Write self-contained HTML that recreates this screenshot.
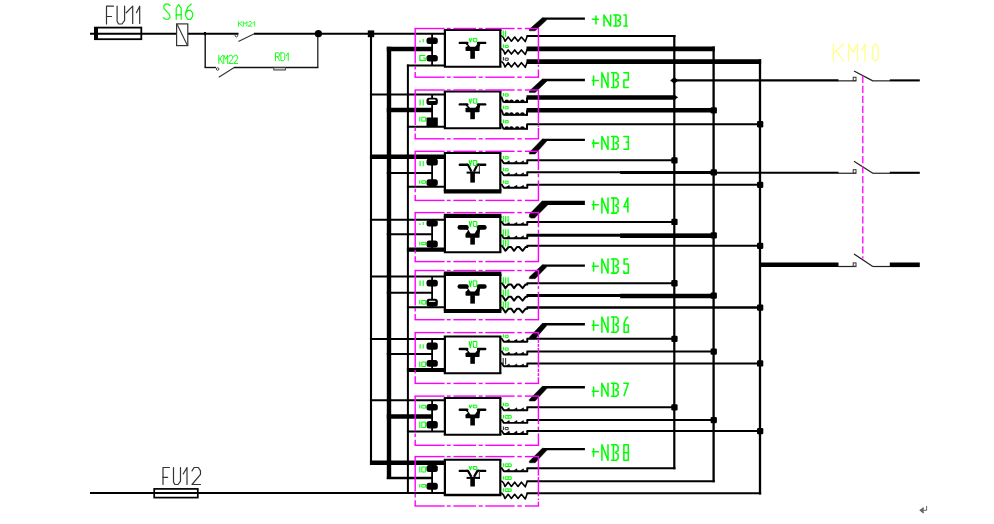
<!DOCTYPE html>
<html><head><meta charset="utf-8"><title>diagram</title>
<style>html,body{margin:0;padding:0;background:#fff;font-family:"Liberation Sans",sans-serif;}svg{display:block}</style>
</head><body>
<svg width="994" height="524" viewBox="0 0 994 524">
<rect width="994" height="524" fill="#fff"/>
<line x1="90.00" y1="33.70" x2="238.50" y2="33.70" stroke="#000" stroke-width="2" stroke-linecap="butt" />
<line x1="254.00" y1="33.70" x2="444.00" y2="33.70" stroke="#000" stroke-width="2" stroke-linecap="butt" />
<rect x="95.00" y="27.60" width="46.30" height="11.60" fill="#fff" stroke="#000" stroke-width="1.8" rx="0"/>
<rect x="94.00" y="27.00" width="4.00" height="13.00" fill="#000" stroke="none" stroke-width="0" rx="0"/>
<line x1="95.00" y1="33.70" x2="141.00" y2="33.70" stroke="#000" stroke-width="2" stroke-linecap="butt" />
<path d="M106.50,24.00 L106.50,6.20 L113.50,6.20" stroke="#333" stroke-width="1.2" fill="none" stroke-linecap="round" stroke-linejoin="round" />
<path d="M106.50,16.52 L111.54,16.52" stroke="#333" stroke-width="1.2" fill="none" stroke-linecap="round" stroke-linejoin="round" />
<path d="M117.10,6.20 L117.10,21.33 L118.60,24.00 L121.97,24.00 L124.60,20.44 L124.60,6.20" stroke="#333" stroke-width="1.2" fill="none" stroke-linecap="round" stroke-linejoin="round" />
<path d="M126.20,12.74 L132.70,6.20 L132.70,23.40" stroke="#333" stroke-width="1.2" fill="none" stroke-linecap="round" stroke-linejoin="round" />
<path d="M136.40,12.74 L139.70,6.20 L139.70,23.40" stroke="#333" stroke-width="1.2" fill="none" stroke-linecap="round" stroke-linejoin="round" />
<path d="M170.00,5.70 L168.35,4.20 L165.38,4.20 L163.73,6.00 L164.06,8.70 L169.67,14.70 L170.00,17.10 L168.35,19.20 L165.38,19.20 L163.40,17.70" stroke="#00ff00" stroke-width="1.15" fill="none" stroke-linecap="round" stroke-linejoin="round" />
<path d="M176.20,19.30 L176.20,8.27 L178.70,4.60 L181.20,8.27 L181.20,19.30" stroke="#00ff00" stroke-width="1.15" fill="none" stroke-linecap="round" stroke-linejoin="round" />
<path d="M176.20,14.89 L181.20,14.89" stroke="#00ff00" stroke-width="1.15" fill="none" stroke-linecap="round" stroke-linejoin="round" />
<path d="M191.30,4.00 L187.80,7.06 L185.70,12.42 L185.70,16.24 L187.80,19.30 L190.60,19.30 L192.70,16.24 L192.70,13.18 L190.60,10.43 L187.80,10.43 L185.70,13.18" stroke="#00ff00" stroke-width="1.15" fill="none" stroke-linecap="round" stroke-linejoin="round" />
<rect x="176.60" y="23.90" width="11.20" height="21.70" fill="#fff" stroke="#333" stroke-width="1.2" rx="0"/>
<line x1="177.20" y1="24.50" x2="187.20" y2="45.00" stroke="#333" stroke-width="1.1" stroke-linecap="butt" />
<line x1="205.20" y1="33.00" x2="205.20" y2="67.50" stroke="#111" stroke-width="1.4" stroke-linecap="butt" />
<line x1="204.50" y1="67.50" x2="216.00" y2="67.50" stroke="#111" stroke-width="1.4" stroke-linecap="butt" />
<circle cx="217.6" cy="69" r="1.3" fill="none" stroke="#333" stroke-width="0.9"/>
<line x1="218.80" y1="77.30" x2="234.20" y2="67.50" stroke="#333" stroke-width="1.1" stroke-linecap="butt" />
<line x1="234.00" y1="67.50" x2="318.40" y2="67.50" stroke="#111" stroke-width="1.4" stroke-linecap="butt" />
<line x1="317.80" y1="67.50" x2="317.80" y2="33.50" stroke="#222" stroke-width="1.3" stroke-linecap="butt" />
<rect x="273.80" y="67.50" width="11.60" height="2.50" fill="#ccc" stroke="#333" stroke-width="0.9" rx="0"/>
<circle cx="236.4" cy="35.6" r="1.3" fill="none" stroke="#333" stroke-width="0.9"/>
<line x1="238.40" y1="41.60" x2="254.30" y2="33.70" stroke="#333" stroke-width="1.1" stroke-linecap="butt" />
<rect x="204.00" y="32.00" width="2.00" height="3.20" fill="#000" stroke="none" stroke-width="0" rx="0"/>
<path d="M238.50,21.60 L238.50,26.20" stroke="#00ff00" stroke-width="0.8" fill="none" stroke-linecap="round" stroke-linejoin="round" />
<path d="M242.10,21.60 L238.50,24.13" stroke="#00ff00" stroke-width="0.8" fill="none" stroke-linecap="round" stroke-linejoin="round" />
<path d="M239.58,23.44 L242.10,26.20" stroke="#00ff00" stroke-width="0.8" fill="none" stroke-linecap="round" stroke-linejoin="round" />
<path d="M243.30,26.20 L243.30,21.60 L245.10,23.90 L246.90,21.60 L246.90,26.20" stroke="#00ff00" stroke-width="0.8" fill="none" stroke-linecap="round" stroke-linejoin="round" />
<path d="M248.10,22.52 L249.00,21.60 L250.80,21.60 L251.70,22.52 L251.70,23.44 L248.10,26.20 L251.70,26.20" stroke="#00ff00" stroke-width="0.8" fill="none" stroke-linecap="round" stroke-linejoin="round" />
<path d="M252.90,23.35 L254.70,21.60 L254.70,26.20" stroke="#00ff00" stroke-width="0.8" fill="none" stroke-linecap="round" stroke-linejoin="round" />
<path d="M218.80,55.20 L218.80,63.50" stroke="#00ff00" stroke-width="0.9" fill="none" stroke-linecap="round" stroke-linejoin="round" />
<path d="M222.70,55.20 L218.80,59.77" stroke="#00ff00" stroke-width="0.9" fill="none" stroke-linecap="round" stroke-linejoin="round" />
<path d="M219.97,58.52 L222.70,63.50" stroke="#00ff00" stroke-width="0.9" fill="none" stroke-linecap="round" stroke-linejoin="round" />
<path d="M223.80,63.50 L223.80,55.20 L225.75,59.35 L227.70,55.20 L227.70,63.50" stroke="#00ff00" stroke-width="0.9" fill="none" stroke-linecap="round" stroke-linejoin="round" />
<path d="M228.80,56.86 L229.78,55.20 L231.73,55.20 L232.70,56.86 L232.70,58.52 L228.80,63.50 L232.70,63.50" stroke="#00ff00" stroke-width="0.9" fill="none" stroke-linecap="round" stroke-linejoin="round" />
<path d="M233.80,56.86 L234.78,55.20 L236.73,55.20 L237.70,56.86 L237.70,58.52 L233.80,63.50 L237.70,63.50" stroke="#00ff00" stroke-width="0.9" fill="none" stroke-linecap="round" stroke-linejoin="round" />
<path d="M275.50,60.60 L275.50,52.80 L278.62,52.80 L279.40,53.97 L279.40,55.92 L278.62,56.70 L275.50,56.70" stroke="#00ff00" stroke-width="0.9" fill="none" stroke-linecap="round" stroke-linejoin="round" />
<path d="M277.45,56.70 L279.40,60.60" stroke="#00ff00" stroke-width="0.9" fill="none" stroke-linecap="round" stroke-linejoin="round" />
<path d="M280.90,52.80 L280.90,60.60 L283.63,60.60 L284.80,59.04 L284.80,54.36 L283.63,52.80 L280.90,52.80" stroke="#00ff00" stroke-width="0.9" fill="none" stroke-linecap="round" stroke-linejoin="round" />
<path d="M286.30,55.76 L288.25,52.80 L288.25,60.60" stroke="#00ff00" stroke-width="0.9" fill="none" stroke-linecap="round" stroke-linejoin="round" />
<circle cx="318.4" cy="33.7" r="3.6" fill="#000"/>
<rect x="367.80" y="30.40" width="6.40" height="6.80" fill="#000" stroke="none" stroke-width="0" rx="0"/>
<line x1="371.00" y1="33.70" x2="371.00" y2="465.00" stroke="#000" stroke-width="2.1" stroke-linecap="butt" />
<line x1="389.00" y1="46.70" x2="389.00" y2="479.10" stroke="#000" stroke-width="4.4" stroke-linecap="butt" />
<line x1="407.90" y1="64.50" x2="407.90" y2="493.90" stroke="#000" stroke-width="2" stroke-linecap="butt" />
<line x1="674.30" y1="35.00" x2="674.30" y2="469.30" stroke="#000" stroke-width="2.2" stroke-linecap="butt" />
<line x1="713.60" y1="46.60" x2="713.60" y2="482.30" stroke="#000" stroke-width="2.3" stroke-linecap="butt" />
<line x1="760.00" y1="59.20" x2="760.00" y2="494.40" stroke="#000" stroke-width="2.3" stroke-linecap="butt" />
<line x1="386.80" y1="49.00" x2="432.00" y2="49.00" stroke="#000" stroke-width="4.5" stroke-linecap="butt" />
<line x1="406.90" y1="65.50" x2="444.50" y2="65.50" stroke="#000" stroke-width="2" stroke-linecap="butt" />
<line x1="432.10" y1="33.70" x2="432.10" y2="65.50" stroke="#000" stroke-width="1.8" stroke-linecap="butt" />
<rect x="426.50" y="37.60" width="11.30" height="6.30" fill="#000" stroke="none" stroke-width="0" rx="2.5"/>
<rect x="426.50" y="55.00" width="11.30" height="6.50" fill="#000" stroke="none" stroke-width="0" rx="2.5"/>
<rect x="444.90" y="30.00" width="55.40" height="36.80" fill="#fff" stroke="none" stroke-width="0" rx="0"/>
<line x1="443.80" y1="30.00" x2="501.40" y2="30.00" stroke="#000" stroke-width="2" stroke-linecap="butt" />
<line x1="443.80" y1="66.80" x2="501.40" y2="66.80" stroke="#000" stroke-width="2" stroke-linecap="butt" />
<line x1="444.90" y1="30.00" x2="444.90" y2="66.80" stroke="#000" stroke-width="2.2" stroke-linecap="butt" />
<line x1="500.30" y1="30.00" x2="500.30" y2="66.80" stroke="#000" stroke-width="2.2" stroke-linecap="butt" />
<line x1="459.80" y1="42.90" x2="467.30" y2="42.90" stroke="#000" stroke-width="2.4" stroke-linecap="round" />
<line x1="478.00" y1="42.90" x2="485.20" y2="42.90" stroke="#000" stroke-width="2.4" stroke-linecap="round" />
<path d="M466.6,42.30 L472.6,50.20 L478.6,42.30 L480.3,43.90 L479.6,47.30 L465.6,47.30 L468,45.90 L465.5,43.90 Z" stroke="#000" stroke-width="0" fill="#000" stroke-linecap="butt" stroke-linejoin="miter" />
<path d="M468.6,41.60 L472.6,47.40 L476.6,41.60 Z" stroke="#000" stroke-width="0" fill="#fff" stroke-linecap="butt" stroke-linejoin="miter" />
<rect x="465.50" y="46.80" width="14.10" height="4.20" fill="#000" stroke="none" stroke-width="0" rx="0.8"/>
<line x1="472.60" y1="50.50" x2="472.60" y2="58.80" stroke="#000" stroke-width="4.6" stroke-linecap="butt" />
<path d="M469.2,38.10 L470.3,42.00 L471.6,38.10" stroke="#00ff00" stroke-width="1.1" fill="none" stroke-linecap="butt" stroke-linejoin="round" />
<path d="M473,38.40 L476.8,38.40 L476.8,41.80 L473.6,41.80 Z" stroke="#00ff00" stroke-width="1.0" fill="none" stroke-linecap="butt" stroke-linejoin="round" />
<rect x="419.30" y="40.60" width="1.30" height="1.60" fill="#00ff00" stroke="none" stroke-width="0" rx="0"/>
<line x1="423.20" y1="39.00" x2="423.20" y2="42.20" stroke="#00ff00" stroke-width="1.1" stroke-linecap="butt" />
<path d="M425.2,55.5 L419.9,55.5 L419.9,60.4 L425.2,60.4 L425.2,58.0 L423,58.0" stroke="#00ff00" stroke-width="1.2" fill="none" stroke-linecap="butt" stroke-linejoin="miter" />
<line x1="526.50" y1="36.00" x2="675.45" y2="36.00" stroke="#000" stroke-width="2" stroke-linecap="butt" />
<path d="M501.3,35.5 L503.6,37.8 L505.0,41.2 L508.2,37.0 L511.4,41.2 L514.7,37.0 L518.0,41.2 L521.4,37.0 L525.3,41.6 L527.3,36.0" stroke="#000" stroke-width="1.6" fill="none" stroke-linecap="butt" stroke-linejoin="round" />
<line x1="503.20" y1="30.60" x2="503.20" y2="37.00" stroke="#00ff00" stroke-width="1.1" stroke-linecap="butt" />
<line x1="505.60" y1="30.60" x2="505.60" y2="37.00" stroke="#00ff00" stroke-width="1.1" stroke-linecap="butt" />
<line x1="526.50" y1="48.90" x2="714.75" y2="48.90" stroke="#000" stroke-width="4.8" stroke-linecap="butt" />
<path d="M501.3,48.4 L503.6,50.7 L505.0,54.1 L508.2,49.9 L511.4,54.1 L514.7,49.9 L518.0,54.1 L521.4,49.9 L525.3,54.5 L527.3,48.9" stroke="#000" stroke-width="1.6" fill="none" stroke-linecap="butt" stroke-linejoin="round" />
<line x1="503.40" y1="44.30" x2="503.40" y2="47.70" stroke="#00ff00" stroke-width="1.1" stroke-linecap="butt" />
<path d="M505.2,47.5 L505.2,45.3 L508.2,45.3 L508.2,47.5 Z" stroke="#00ff00" stroke-width="1.0" fill="none" stroke-linecap="butt" stroke-linejoin="miter" />
<line x1="526.50" y1="61.70" x2="761.15" y2="61.70" stroke="#000" stroke-width="4.8" stroke-linecap="butt" />
<path d="M501.3,61.2 L503.6,63.5 L505.0,66.9 L508.2,62.7 L511.4,66.9 L514.7,62.7 L518.0,66.9 L521.4,62.7 L525.3,67.3 L527.3,61.7" stroke="#000" stroke-width="1.6" fill="none" stroke-linecap="butt" stroke-linejoin="round" />
<line x1="503.40" y1="57.10" x2="503.40" y2="60.50" stroke="#333" stroke-width="1.1" stroke-linecap="butt" />
<path d="M505.2,60.3 L505.2,58.1 L508.2,58.1 L508.2,60.3 Z" stroke="#333" stroke-width="1.0" fill="none" stroke-linecap="butt" stroke-linejoin="miter" />
<line x1="543.20" y1="18.60" x2="584.90" y2="18.60" stroke="#000" stroke-width="2.4" stroke-linecap="butt" />
<path d="M542.6,17.40 L529.3,29.20 L529.3,30.80 L535.2,30.80 L546.9,19.80 Z" stroke="#000" stroke-width="0.4" fill="#000" stroke-linecap="butt" stroke-linejoin="round" />
<line x1="592.40" y1="19.30" x2="598.30" y2="19.30" stroke="#00ff00" stroke-width="1.55" stroke-linecap="round" />
<line x1="596.00" y1="15.90" x2="596.00" y2="23.90" stroke="#00ff00" stroke-width="1.55" stroke-linecap="round" />
<path d="M604.00,26.00 L604.00,15.00 L610.60,26.00 L610.60,15.00" stroke="#00ff00" stroke-width="1.55" fill="none" stroke-linecap="round" stroke-linejoin="round" />
<path d="M613.90,15.00 L618.70,15.00 L620.30,16.32 L620.30,19.18 L617.74,20.50 L620.30,21.82 L620.30,24.68 L618.70,26.00 L613.90,26.00" stroke="#00ff00" stroke-width="1.55" fill="none" stroke-linecap="round" stroke-linejoin="round" />
<path d="M615.82,15.00 L615.82,26.00" stroke="#00ff00" stroke-width="1.55" fill="none" stroke-linecap="round" stroke-linejoin="round" />
<path d="M623.90,15.00 L626.05,15.00 L626.05,26.00" stroke="#00ff00" stroke-width="1.55" fill="none" stroke-linecap="round" stroke-linejoin="round" />
<path d="M623.90,26.00 L627.20,26.00" stroke="#00ff00" stroke-width="1.55" fill="none" stroke-linecap="round" stroke-linejoin="round" />
<line x1="414.55" y1="28.50" x2="444.60" y2="28.50" stroke="#ff00ff" stroke-width="1.4" stroke-linecap="butt" />
<line x1="446.80" y1="28.50" x2="450.70" y2="28.50" stroke="#ff00ff" stroke-width="1.4" stroke-linecap="butt" />
<line x1="453.40" y1="28.50" x2="476.00" y2="28.50" stroke="#ff00ff" stroke-width="1.4" stroke-linecap="butt" />
<line x1="478.60" y1="28.50" x2="482.70" y2="28.50" stroke="#ff00ff" stroke-width="1.4" stroke-linecap="butt" />
<line x1="485.30" y1="28.50" x2="514.60" y2="28.50" stroke="#ff00ff" stroke-width="1.4" stroke-linecap="butt" />
<line x1="517.30" y1="28.50" x2="521.80" y2="28.50" stroke="#ff00ff" stroke-width="1.4" stroke-linecap="butt" />
<line x1="524.80" y1="28.50" x2="539.05" y2="28.50" stroke="#ff00ff" stroke-width="1.4" stroke-linecap="butt" />
<line x1="414.55" y1="77.20" x2="444.60" y2="77.20" stroke="#ff00ff" stroke-width="1.4" stroke-linecap="butt" />
<line x1="446.80" y1="77.20" x2="450.70" y2="77.20" stroke="#ff00ff" stroke-width="1.4" stroke-linecap="butt" />
<line x1="453.40" y1="77.20" x2="476.00" y2="77.20" stroke="#ff00ff" stroke-width="1.4" stroke-linecap="butt" />
<line x1="478.60" y1="77.20" x2="482.70" y2="77.20" stroke="#ff00ff" stroke-width="1.4" stroke-linecap="butt" />
<line x1="485.30" y1="77.20" x2="514.60" y2="77.20" stroke="#ff00ff" stroke-width="1.4" stroke-linecap="butt" />
<line x1="517.30" y1="77.20" x2="521.80" y2="77.20" stroke="#ff00ff" stroke-width="1.4" stroke-linecap="butt" />
<line x1="524.80" y1="77.20" x2="539.05" y2="77.20" stroke="#ff00ff" stroke-width="1.4" stroke-linecap="butt" />
<line x1="415.20" y1="28.50" x2="415.20" y2="63.50" stroke="#ff00ff" stroke-width="1.4" stroke-linecap="butt" />
<line x1="415.20" y1="65.90" x2="415.20" y2="69.50" stroke="#ff00ff" stroke-width="1.4" stroke-linecap="butt" />
<line x1="415.20" y1="72.10" x2="415.20" y2="77.20" stroke="#ff00ff" stroke-width="1.4" stroke-linecap="butt" />
<line x1="538.40" y1="28.50" x2="538.40" y2="62.50" stroke="#ff00ff" stroke-width="1.4" stroke-linecap="butt" />
<line x1="538.40" y1="64.70" x2="538.40" y2="66.80" stroke="#ff00ff" stroke-width="1.4" stroke-linecap="butt" />
<line x1="538.40" y1="69.50" x2="538.40" y2="77.20" stroke="#ff00ff" stroke-width="1.4" stroke-linecap="butt" />
<line x1="369.95" y1="94.50" x2="444.50" y2="94.50" stroke="#000" stroke-width="2" stroke-linecap="butt" />
<line x1="386.80" y1="110.00" x2="432.00" y2="110.00" stroke="#000" stroke-width="4.5" stroke-linecap="butt" />
<line x1="406.90" y1="126.70" x2="444.50" y2="126.70" stroke="#000" stroke-width="2" stroke-linecap="butt" />
<line x1="432.10" y1="94.50" x2="432.10" y2="126.70" stroke="#000" stroke-width="1.8" stroke-linecap="butt" />
<rect x="426.50" y="97.70" width="11.30" height="7.30" fill="#000" stroke="none" stroke-width="0" rx="2.5"/>
<rect x="428.80" y="99.60" width="6.80" height="1.50" fill="#f4f4f4" stroke="none" stroke-width="0" rx="0.7"/>
<rect x="426.50" y="117.40" width="11.30" height="8.60" fill="#000" stroke="none" stroke-width="0" rx="0.5"/>
<rect x="444.90" y="91.50" width="55.40" height="36.70" fill="#fff" stroke="none" stroke-width="0" rx="0"/>
<line x1="443.80" y1="91.50" x2="501.40" y2="91.50" stroke="#000" stroke-width="2" stroke-linecap="butt" />
<line x1="443.80" y1="128.20" x2="501.40" y2="128.20" stroke="#000" stroke-width="2" stroke-linecap="butt" />
<line x1="444.90" y1="91.50" x2="444.90" y2="128.20" stroke="#000" stroke-width="2.2" stroke-linecap="butt" />
<line x1="500.30" y1="91.50" x2="500.30" y2="128.20" stroke="#000" stroke-width="2.2" stroke-linecap="butt" />
<line x1="459.80" y1="104.40" x2="467.30" y2="104.40" stroke="#000" stroke-width="2.4" stroke-linecap="round" />
<line x1="478.00" y1="104.40" x2="485.20" y2="104.40" stroke="#000" stroke-width="2.4" stroke-linecap="round" />
<path d="M466.6,103.80 L472.6,111.20 L478.6,103.80 L480.3,105.40 L479.6,108.30 L465.6,108.30 L468,107.40 L465.5,105.40 Z" stroke="#000" stroke-width="0" fill="#000" stroke-linecap="butt" stroke-linejoin="miter" />
<path d="M468.6,103.10 L472.6,108.40 L476.6,103.10 Z" stroke="#000" stroke-width="0" fill="#fff" stroke-linecap="butt" stroke-linejoin="miter" />
<rect x="465.50" y="107.80" width="14.10" height="4.50" fill="#000" stroke="none" stroke-width="0" rx="0.8"/>
<line x1="472.60" y1="111.80" x2="472.60" y2="119.20" stroke="#000" stroke-width="4.6" stroke-linecap="butt" />
<path d="M469.2,98.60 L470.3,103.40 L471.6,98.60" stroke="#00ff00" stroke-width="1.1" fill="none" stroke-linecap="butt" stroke-linejoin="round" />
<path d="M473,98.90 L476.8,98.90 L476.8,103.20 L473.6,103.20 Z" stroke="#00ff00" stroke-width="1.0" fill="none" stroke-linecap="butt" stroke-linejoin="round" />
<line x1="420.10" y1="99.40" x2="420.10" y2="105.50" stroke="#00ff00" stroke-width="1.1" stroke-linecap="butt" />
<line x1="423.20" y1="99.40" x2="423.20" y2="105.50" stroke="#00ff00" stroke-width="1.1" stroke-linecap="butt" />
<line x1="419.80" y1="116.80" x2="419.80" y2="121.60" stroke="#00ff00" stroke-width="1.1" stroke-linecap="butt" />
<path d="M421.8,117.3 L425.6,117.3 L425.6,121.1 L421.8,121.1 Z" stroke="#00ff00" stroke-width="1.0" fill="none" stroke-linecap="butt" stroke-linejoin="miter" />
<line x1="526.50" y1="97.50" x2="675.45" y2="97.50" stroke="#000" stroke-width="4.3" stroke-linecap="butt" />
<path d="M501.3,96.7 L503.4,102.1" stroke="#000" stroke-width="1.8" fill="none" stroke-linecap="butt" stroke-linejoin="miter" />
<path d="M503.2,102.1 L527.6,102.1" stroke="#000" stroke-width="1.9" fill="none" stroke-linecap="butt" stroke-linejoin="miter" />
<ellipse cx="506.8" cy="101.0" rx="2.2" ry="1.5" fill="#000"/>
<ellipse cx="511.4" cy="101.0" rx="2.2" ry="1.5" fill="#000"/>
<ellipse cx="517.2" cy="101.0" rx="2.2" ry="1.5" fill="#000"/>
<ellipse cx="522.4" cy="101.0" rx="2.2" ry="1.5" fill="#000"/>
<line x1="527.00" y1="97.50" x2="527.00" y2="103.00" stroke="#000" stroke-width="2.0" stroke-linecap="butt" />
<line x1="503.40" y1="92.90" x2="503.40" y2="96.30" stroke="#00ff00" stroke-width="1.1" stroke-linecap="butt" />
<path d="M505.2,96.1 L505.2,93.9 L508.2,93.9 L508.2,96.1 Z" stroke="#00ff00" stroke-width="1.0" fill="none" stroke-linecap="butt" stroke-linejoin="miter" />
<line x1="526.50" y1="110.30" x2="714.75" y2="110.30" stroke="#000" stroke-width="4.5" stroke-linecap="butt" />
<path d="M501.3,109.5 L503.4,114.9" stroke="#000" stroke-width="1.8" fill="none" stroke-linecap="butt" stroke-linejoin="miter" />
<path d="M503.2,114.9 L527.6,114.9" stroke="#000" stroke-width="1.9" fill="none" stroke-linecap="butt" stroke-linejoin="miter" />
<ellipse cx="506.8" cy="113.8" rx="2.2" ry="1.5" fill="#000"/>
<ellipse cx="511.4" cy="113.8" rx="2.2" ry="1.5" fill="#000"/>
<ellipse cx="517.2" cy="113.8" rx="2.2" ry="1.5" fill="#000"/>
<ellipse cx="522.4" cy="113.8" rx="2.2" ry="1.5" fill="#000"/>
<line x1="527.00" y1="110.30" x2="527.00" y2="115.80" stroke="#000" stroke-width="2.0" stroke-linecap="butt" />
<line x1="503.40" y1="105.70" x2="503.40" y2="109.10" stroke="#00ff00" stroke-width="1.1" stroke-linecap="butt" />
<path d="M505.2,108.9 L505.2,106.7 L508.2,106.7 L508.2,108.9 Z" stroke="#00ff00" stroke-width="1.0" fill="none" stroke-linecap="butt" stroke-linejoin="miter" />
<rect x="710.60" y="107.20" width="6.30" height="6.30" fill="#000" stroke="none" stroke-width="0" rx="1.2"/>
<line x1="526.50" y1="124.20" x2="761.15" y2="124.20" stroke="#000" stroke-width="2" stroke-linecap="butt" />
<path d="M501.3,123.4 L503.4,128.8" stroke="#000" stroke-width="1.8" fill="none" stroke-linecap="butt" stroke-linejoin="miter" />
<path d="M503.2,128.8 L527.6,128.8" stroke="#000" stroke-width="1.9" fill="none" stroke-linecap="butt" stroke-linejoin="miter" />
<ellipse cx="506.8" cy="127.7" rx="2.2" ry="1.5" fill="#000"/>
<ellipse cx="511.4" cy="127.7" rx="2.2" ry="1.5" fill="#000"/>
<ellipse cx="517.2" cy="127.7" rx="2.2" ry="1.5" fill="#000"/>
<ellipse cx="522.4" cy="127.7" rx="2.2" ry="1.5" fill="#000"/>
<line x1="527.00" y1="124.20" x2="527.00" y2="129.70" stroke="#000" stroke-width="2.0" stroke-linecap="butt" />
<line x1="503.40" y1="119.60" x2="503.40" y2="123.00" stroke="#00ff00" stroke-width="1.1" stroke-linecap="butt" />
<path d="M505.2,122.8 L505.2,120.6 L508.2,120.6 L508.2,122.8 Z" stroke="#00ff00" stroke-width="1.0" fill="none" stroke-linecap="butt" stroke-linejoin="miter" />
<rect x="757.00" y="121.10" width="6.30" height="6.30" fill="#000" stroke="none" stroke-width="0" rx="1.2"/>
<line x1="543.20" y1="80.00" x2="584.90" y2="80.00" stroke="#000" stroke-width="2.4" stroke-linecap="butt" />
<path d="M542.6,78.80 L529.3,91.00 L529.3,92.60 L535.2,92.60 L546.9,81.20 Z" stroke="#000" stroke-width="0.4" fill="#000" stroke-linecap="butt" stroke-linejoin="round" />
<line x1="592.40" y1="80.50" x2="598.30" y2="80.50" stroke="#00ff00" stroke-width="1.55" stroke-linecap="round" />
<line x1="593.60" y1="76.10" x2="593.60" y2="85.30" stroke="#00ff00" stroke-width="1.55" stroke-linecap="round" />
<path d="M601.90,87.40 L601.90,72.70 L608.00,87.40 L608.00,72.70" stroke="#00ff00" stroke-width="1.55" fill="none" stroke-linecap="round" stroke-linejoin="round" />
<path d="M611.50,72.70 L616.45,72.70 L618.10,74.46 L618.10,78.29 L615.46,80.05 L618.10,81.81 L618.10,85.64 L616.45,87.40 L611.50,87.40" stroke="#00ff00" stroke-width="1.55" fill="none" stroke-linecap="round" stroke-linejoin="round" />
<path d="M613.48,72.70 L613.48,87.40" stroke="#00ff00" stroke-width="1.55" fill="none" stroke-linecap="round" stroke-linejoin="round" />
<path d="M623.90,72.70 L628.30,72.70 L628.30,80.05 L623.90,80.05 L623.90,87.40 L628.30,87.40" stroke="#00ff00" stroke-width="1.55" fill="none" stroke-linecap="round" stroke-linejoin="round" />
<line x1="414.55" y1="90.00" x2="444.60" y2="90.00" stroke="#ff00ff" stroke-width="1.4" stroke-linecap="butt" />
<line x1="446.80" y1="90.00" x2="450.70" y2="90.00" stroke="#ff00ff" stroke-width="1.4" stroke-linecap="butt" />
<line x1="453.40" y1="90.00" x2="476.00" y2="90.00" stroke="#ff00ff" stroke-width="1.4" stroke-linecap="butt" />
<line x1="478.60" y1="90.00" x2="482.70" y2="90.00" stroke="#ff00ff" stroke-width="1.4" stroke-linecap="butt" />
<line x1="485.30" y1="90.00" x2="514.60" y2="90.00" stroke="#ff00ff" stroke-width="1.4" stroke-linecap="butt" />
<line x1="517.30" y1="90.00" x2="521.80" y2="90.00" stroke="#ff00ff" stroke-width="1.4" stroke-linecap="butt" />
<line x1="524.80" y1="90.00" x2="539.05" y2="90.00" stroke="#ff00ff" stroke-width="1.4" stroke-linecap="butt" />
<line x1="414.55" y1="138.80" x2="444.60" y2="138.80" stroke="#ff00ff" stroke-width="1.4" stroke-linecap="butt" />
<line x1="446.80" y1="138.80" x2="450.70" y2="138.80" stroke="#ff00ff" stroke-width="1.4" stroke-linecap="butt" />
<line x1="453.40" y1="138.80" x2="476.00" y2="138.80" stroke="#ff00ff" stroke-width="1.4" stroke-linecap="butt" />
<line x1="478.60" y1="138.80" x2="482.70" y2="138.80" stroke="#ff00ff" stroke-width="1.4" stroke-linecap="butt" />
<line x1="485.30" y1="138.80" x2="514.60" y2="138.80" stroke="#ff00ff" stroke-width="1.4" stroke-linecap="butt" />
<line x1="517.30" y1="138.80" x2="521.80" y2="138.80" stroke="#ff00ff" stroke-width="1.4" stroke-linecap="butt" />
<line x1="524.80" y1="138.80" x2="539.05" y2="138.80" stroke="#ff00ff" stroke-width="1.4" stroke-linecap="butt" />
<line x1="415.20" y1="90.00" x2="415.20" y2="125.00" stroke="#ff00ff" stroke-width="1.4" stroke-linecap="butt" />
<line x1="415.20" y1="127.40" x2="415.20" y2="131.00" stroke="#ff00ff" stroke-width="1.4" stroke-linecap="butt" />
<line x1="415.20" y1="133.60" x2="415.20" y2="138.80" stroke="#ff00ff" stroke-width="1.4" stroke-linecap="butt" />
<line x1="538.40" y1="90.00" x2="538.40" y2="124.00" stroke="#ff00ff" stroke-width="1.4" stroke-linecap="butt" />
<line x1="538.40" y1="125.50" x2="538.40" y2="127.00" stroke="#ff00ff" stroke-width="1.4" stroke-linecap="butt" />
<line x1="538.40" y1="128.00" x2="538.40" y2="138.80" stroke="#ff00ff" stroke-width="1.4" stroke-linecap="butt" />
<line x1="369.95" y1="156.80" x2="444.50" y2="156.80" stroke="#000" stroke-width="4.5" stroke-linecap="butt" />
<line x1="386.80" y1="173.00" x2="432.00" y2="173.00" stroke="#000" stroke-width="2" stroke-linecap="butt" />
<line x1="406.90" y1="186.70" x2="444.50" y2="186.70" stroke="#000" stroke-width="2" stroke-linecap="butt" />
<line x1="432.10" y1="156.80" x2="432.10" y2="186.70" stroke="#000" stroke-width="1.8" stroke-linecap="butt" />
<rect x="426.50" y="158.50" width="11.30" height="7.00" fill="#000" stroke="none" stroke-width="0" rx="2.5"/>
<rect x="426.50" y="179.20" width="11.30" height="6.80" fill="#000" stroke="none" stroke-width="0" rx="2.5"/>
<rect x="444.90" y="153.10" width="55.40" height="38.20" fill="#fff" stroke="none" stroke-width="0" rx="0"/>
<line x1="443.80" y1="153.10" x2="501.40" y2="153.10" stroke="#000" stroke-width="2" stroke-linecap="butt" />
<line x1="443.80" y1="191.30" x2="501.40" y2="191.30" stroke="#000" stroke-width="4.3" stroke-linecap="butt" />
<line x1="444.90" y1="153.10" x2="444.90" y2="191.30" stroke="#000" stroke-width="2.2" stroke-linecap="butt" />
<line x1="500.30" y1="153.10" x2="500.30" y2="191.30" stroke="#000" stroke-width="2.2" stroke-linecap="butt" />
<line x1="459.80" y1="164.80" x2="467.30" y2="164.80" stroke="#000" stroke-width="2.4" stroke-linecap="round" />
<line x1="478.00" y1="164.80" x2="485.20" y2="164.80" stroke="#000" stroke-width="2.4" stroke-linecap="round" />
<path d="M466.5,164.80 L468,164.80 L471.4,171.60" stroke="#000" stroke-width="2.2" fill="none" stroke-linecap="butt" stroke-linejoin="round" />
<path d="M479,164.80 L477.4,164.80 L474,171.60" stroke="#000" stroke-width="2.2" fill="none" stroke-linecap="butt" stroke-linejoin="round" />
<line x1="479.40" y1="164.80" x2="479.40" y2="173.60" stroke="#444" stroke-width="1.1" stroke-linecap="butt" />
<line x1="466.60" y1="172.60" x2="480.00" y2="172.60" stroke="#000" stroke-width="2.0" stroke-linecap="butt" />
<line x1="472.60" y1="171.60" x2="472.60" y2="182.60" stroke="#000" stroke-width="4.6" stroke-linecap="butt" />
<path d="M469.2,160.20 L470.3,165.70 L471.6,160.20" stroke="#00ff00" stroke-width="1.1" fill="none" stroke-linecap="butt" stroke-linejoin="round" />
<path d="M473,160.50 L476.8,160.50 L476.8,165.50 L473.6,165.50 Z" stroke="#00ff00" stroke-width="1.0" fill="none" stroke-linecap="butt" stroke-linejoin="round" />
<line x1="420.10" y1="161.00" x2="420.10" y2="166.20" stroke="#00ff00" stroke-width="1.1" stroke-linecap="butt" />
<line x1="423.20" y1="161.00" x2="423.20" y2="166.20" stroke="#00ff00" stroke-width="1.1" stroke-linecap="butt" />
<line x1="419.80" y1="180.30" x2="419.80" y2="183.80" stroke="#00ff00" stroke-width="1.1" stroke-linecap="butt" />
<path d="M421.8,180.8 L425.6,180.8 L425.6,183.3 L421.8,183.3 Z" stroke="#00ff00" stroke-width="1.0" fill="none" stroke-linecap="butt" stroke-linejoin="miter" />
<line x1="526.50" y1="160.30" x2="675.45" y2="160.30" stroke="#000" stroke-width="2" stroke-linecap="butt" />
<path d="M501.3,159.5 L503.8,163.2 L527.3,163.2 L527.3,160.3" stroke="#000" stroke-width="1.9" fill="none" stroke-linecap="butt" stroke-linejoin="round" />
<path d="M506.4,162.6 L509.2,160.8 L509.6,162.6 Z" stroke="#000" stroke-width="0.5" fill="#000" stroke-linecap="butt" stroke-linejoin="miter" />
<path d="M514.0,162.6 L516.8,160.8 L517.2,162.6 Z" stroke="#000" stroke-width="0.5" fill="#000" stroke-linecap="butt" stroke-linejoin="miter" />
<path d="M520.6,162.6 L523.4,160.8 L523.8,162.6 Z" stroke="#000" stroke-width="0.5" fill="#000" stroke-linecap="butt" stroke-linejoin="miter" />
<line x1="503.40" y1="155.70" x2="503.40" y2="159.10" stroke="#00ff00" stroke-width="1.1" stroke-linecap="butt" />
<path d="M505.2,158.9 L505.2,156.7 L508.2,156.7 L508.2,158.9 Z" stroke="#00ff00" stroke-width="1.0" fill="none" stroke-linecap="butt" stroke-linejoin="miter" />
<rect x="671.30" y="157.20" width="6.30" height="6.30" fill="#000" stroke="none" stroke-width="0" rx="1.2"/>
<line x1="526.50" y1="172.30" x2="714.75" y2="172.30" stroke="#000" stroke-width="2" stroke-linecap="butt" />
<line x1="620.20" y1="172.60" x2="714.75" y2="172.60" stroke="#000" stroke-width="3" stroke-linecap="butt" />
<path d="M501.3,171.5 L503.8,175.2 L527.3,175.2 L527.3,172.3" stroke="#000" stroke-width="1.9" fill="none" stroke-linecap="butt" stroke-linejoin="round" />
<path d="M506.4,174.6 L509.2,172.8 L509.6,174.6 Z" stroke="#000" stroke-width="0.5" fill="#000" stroke-linecap="butt" stroke-linejoin="miter" />
<path d="M514.0,174.6 L516.8,172.8 L517.2,174.6 Z" stroke="#000" stroke-width="0.5" fill="#000" stroke-linecap="butt" stroke-linejoin="miter" />
<path d="M520.6,174.6 L523.4,172.8 L523.8,174.6 Z" stroke="#000" stroke-width="0.5" fill="#000" stroke-linecap="butt" stroke-linejoin="miter" />
<line x1="503.40" y1="167.70" x2="503.40" y2="171.10" stroke="#00ff00" stroke-width="1.1" stroke-linecap="butt" />
<path d="M505.2,170.9 L505.2,168.7 L508.2,168.7 L508.2,170.9 Z" stroke="#00ff00" stroke-width="1.0" fill="none" stroke-linecap="butt" stroke-linejoin="miter" />
<rect x="710.60" y="169.20" width="6.30" height="6.30" fill="#000" stroke="none" stroke-width="0" rx="1.2"/>
<line x1="526.50" y1="184.80" x2="761.15" y2="184.80" stroke="#000" stroke-width="2" stroke-linecap="butt" />
<path d="M501.3,184.0 L503.8,187.7 L527.3,187.7 L527.3,184.8" stroke="#000" stroke-width="1.9" fill="none" stroke-linecap="butt" stroke-linejoin="round" />
<path d="M506.4,187.1 L509.2,185.3 L509.6,187.1 Z" stroke="#000" stroke-width="0.5" fill="#000" stroke-linecap="butt" stroke-linejoin="miter" />
<path d="M514.0,187.1 L516.8,185.3 L517.2,187.1 Z" stroke="#000" stroke-width="0.5" fill="#000" stroke-linecap="butt" stroke-linejoin="miter" />
<path d="M520.6,187.1 L523.4,185.3 L523.8,187.1 Z" stroke="#000" stroke-width="0.5" fill="#000" stroke-linecap="butt" stroke-linejoin="miter" />
<line x1="503.40" y1="180.20" x2="503.40" y2="183.60" stroke="#00ff00" stroke-width="1.1" stroke-linecap="butt" />
<path d="M505.2,183.4 L505.2,181.2 L508.2,181.2 L508.2,183.4 Z" stroke="#00ff00" stroke-width="1.0" fill="none" stroke-linecap="butt" stroke-linejoin="miter" />
<rect x="757.00" y="181.70" width="6.30" height="6.30" fill="#000" stroke="none" stroke-width="0" rx="1.2"/>
<line x1="543.20" y1="139.90" x2="584.90" y2="139.90" stroke="#000" stroke-width="2.4" stroke-linecap="butt" />
<path d="M542.6,138.70 L529.3,152.50 L529.3,154.10 L535.2,154.10 L546.9,141.10 Z" stroke="#000" stroke-width="0.4" fill="#000" stroke-linecap="butt" stroke-linejoin="round" />
<line x1="592.40" y1="143.10" x2="598.30" y2="143.10" stroke="#00ff00" stroke-width="1.55" stroke-linecap="round" />
<line x1="593.60" y1="140.10" x2="593.60" y2="147.10" stroke="#00ff00" stroke-width="1.55" stroke-linecap="round" />
<path d="M601.90,149.30 L601.90,136.40 L608.00,149.30 L608.00,136.40" stroke="#00ff00" stroke-width="1.55" fill="none" stroke-linecap="round" stroke-linejoin="round" />
<path d="M611.50,136.40 L616.45,136.40 L618.10,137.95 L618.10,141.30 L615.46,142.85 L618.10,144.40 L618.10,147.75 L616.45,149.30 L611.50,149.30" stroke="#00ff00" stroke-width="1.55" fill="none" stroke-linecap="round" stroke-linejoin="round" />
<path d="M613.48,136.40 L613.48,149.30" stroke="#00ff00" stroke-width="1.55" fill="none" stroke-linecap="round" stroke-linejoin="round" />
<path d="M623.90,136.40 L628.30,136.40 L628.30,149.30 L623.90,149.30" stroke="#00ff00" stroke-width="1.55" fill="none" stroke-linecap="round" stroke-linejoin="round" />
<path d="M626.32,142.33 L628.30,142.33" stroke="#00ff00" stroke-width="1.55" fill="none" stroke-linecap="round" stroke-linejoin="round" />
<line x1="414.55" y1="151.30" x2="444.60" y2="151.30" stroke="#ff00ff" stroke-width="1.4" stroke-linecap="butt" />
<line x1="446.80" y1="151.30" x2="450.70" y2="151.30" stroke="#ff00ff" stroke-width="1.4" stroke-linecap="butt" />
<line x1="453.40" y1="151.30" x2="476.00" y2="151.30" stroke="#ff00ff" stroke-width="1.4" stroke-linecap="butt" />
<line x1="478.60" y1="151.30" x2="482.70" y2="151.30" stroke="#ff00ff" stroke-width="1.4" stroke-linecap="butt" />
<line x1="485.30" y1="151.30" x2="514.60" y2="151.30" stroke="#ff00ff" stroke-width="1.4" stroke-linecap="butt" />
<line x1="517.30" y1="151.30" x2="521.80" y2="151.30" stroke="#ff00ff" stroke-width="1.4" stroke-linecap="butt" />
<line x1="524.80" y1="151.30" x2="539.05" y2="151.30" stroke="#ff00ff" stroke-width="1.4" stroke-linecap="butt" />
<line x1="414.55" y1="200.40" x2="444.60" y2="200.40" stroke="#ff00ff" stroke-width="1.4" stroke-linecap="butt" />
<line x1="446.80" y1="200.40" x2="450.70" y2="200.40" stroke="#ff00ff" stroke-width="1.4" stroke-linecap="butt" />
<line x1="453.40" y1="200.40" x2="476.00" y2="200.40" stroke="#ff00ff" stroke-width="1.4" stroke-linecap="butt" />
<line x1="478.60" y1="200.40" x2="482.70" y2="200.40" stroke="#ff00ff" stroke-width="1.4" stroke-linecap="butt" />
<line x1="485.30" y1="200.40" x2="514.60" y2="200.40" stroke="#ff00ff" stroke-width="1.4" stroke-linecap="butt" />
<line x1="517.30" y1="200.40" x2="521.80" y2="200.40" stroke="#ff00ff" stroke-width="1.4" stroke-linecap="butt" />
<line x1="524.80" y1="200.40" x2="539.05" y2="200.40" stroke="#ff00ff" stroke-width="1.4" stroke-linecap="butt" />
<line x1="415.20" y1="151.30" x2="415.20" y2="186.30" stroke="#ff00ff" stroke-width="1.4" stroke-linecap="butt" />
<line x1="415.20" y1="188.70" x2="415.20" y2="192.30" stroke="#ff00ff" stroke-width="1.4" stroke-linecap="butt" />
<line x1="415.20" y1="194.90" x2="415.20" y2="200.40" stroke="#ff00ff" stroke-width="1.4" stroke-linecap="butt" />
<line x1="538.40" y1="151.30" x2="538.40" y2="170.00" stroke="#ff00ff" stroke-width="1.4" stroke-linecap="butt" />
<line x1="538.40" y1="173.60" x2="538.40" y2="177.20" stroke="#ff00ff" stroke-width="1.4" stroke-linecap="butt" />
<line x1="538.40" y1="180.30" x2="538.40" y2="200.40" stroke="#ff00ff" stroke-width="1.4" stroke-linecap="butt" />
<line x1="369.95" y1="219.70" x2="444.50" y2="219.70" stroke="#000" stroke-width="2" stroke-linecap="butt" />
<line x1="386.80" y1="234.30" x2="432.00" y2="234.30" stroke="#000" stroke-width="2" stroke-linecap="butt" />
<line x1="406.90" y1="249.70" x2="444.50" y2="249.70" stroke="#000" stroke-width="4.3" stroke-linecap="butt" />
<line x1="432.10" y1="219.70" x2="432.10" y2="249.70" stroke="#000" stroke-width="1.8" stroke-linecap="butt" />
<rect x="426.50" y="220.00" width="11.30" height="6.50" fill="#000" stroke="none" stroke-width="0" rx="2.5"/>
<rect x="426.50" y="240.50" width="11.30" height="7.00" fill="#000" stroke="none" stroke-width="0" rx="2.5"/>
<rect x="444.90" y="215.80" width="55.40" height="36.40" fill="#fff" stroke="none" stroke-width="0" rx="0"/>
<line x1="443.80" y1="215.80" x2="501.40" y2="215.80" stroke="#000" stroke-width="4.3" stroke-linecap="butt" />
<line x1="443.80" y1="252.20" x2="501.40" y2="252.20" stroke="#000" stroke-width="2" stroke-linecap="butt" />
<line x1="444.90" y1="215.80" x2="444.90" y2="252.20" stroke="#000" stroke-width="2.2" stroke-linecap="butt" />
<line x1="500.30" y1="215.80" x2="500.30" y2="252.20" stroke="#000" stroke-width="2.2" stroke-linecap="butt" />
<line x1="459.80" y1="227.40" x2="466.50" y2="227.40" stroke="#000" stroke-width="4.6" stroke-linecap="round" />
<line x1="479.00" y1="227.40" x2="484.40" y2="227.40" stroke="#000" stroke-width="4.6" stroke-linecap="round" />
<path d="M466.6,226.80 L472.6,237.00 L478.6,226.80 L480.3,228.40 L479.6,234.10 L465.6,234.10 L468,230.40 L465.5,228.40 Z" stroke="#000" stroke-width="0" fill="#000" stroke-linecap="butt" stroke-linejoin="miter" />
<path d="M468.6,226.10 L472.6,234.20 L476.6,226.10 Z" stroke="#000" stroke-width="0" fill="#fff" stroke-linecap="butt" stroke-linejoin="miter" />
<rect x="465.50" y="233.60" width="14.10" height="4.10" fill="#000" stroke="none" stroke-width="0" rx="0.8"/>
<line x1="472.60" y1="237.20" x2="472.60" y2="244.60" stroke="#000" stroke-width="4.6" stroke-linecap="butt" />
<path d="M469.2,221.20 L470.3,226.70 L471.6,221.20" stroke="#00ff00" stroke-width="1.1" fill="none" stroke-linecap="butt" stroke-linejoin="round" />
<path d="M473,221.50 L476.8,221.50 L476.8,226.50 L473.6,226.50 Z" stroke="#00ff00" stroke-width="1.0" fill="none" stroke-linecap="butt" stroke-linejoin="round" />
<rect x="419.30" y="223.40" width="1.30" height="1.60" fill="#00ff00" stroke="none" stroke-width="0" rx="0"/>
<line x1="423.20" y1="222.00" x2="423.20" y2="225.00" stroke="#00ff00" stroke-width="1.1" stroke-linecap="butt" />
<line x1="419.80" y1="241.80" x2="419.80" y2="245.20" stroke="#00ff00" stroke-width="1.1" stroke-linecap="butt" />
<path d="M421.8,242.3 L425.6,242.3 L425.6,244.7 L421.8,244.7 Z" stroke="#00ff00" stroke-width="1.0" fill="none" stroke-linecap="butt" stroke-linejoin="miter" />
<line x1="526.50" y1="221.90" x2="675.45" y2="221.90" stroke="#000" stroke-width="2" stroke-linecap="butt" />
<path d="M501.3,221.1 L503.8,224.8 L527.3,224.8 L527.3,221.9" stroke="#000" stroke-width="1.9" fill="none" stroke-linecap="butt" stroke-linejoin="round" />
<path d="M506.4,224.2 L509.2,222.4 L509.6,224.2 Z" stroke="#000" stroke-width="0.5" fill="#000" stroke-linecap="butt" stroke-linejoin="miter" />
<path d="M514.0,224.2 L516.8,222.4 L517.2,224.2 Z" stroke="#000" stroke-width="0.5" fill="#000" stroke-linecap="butt" stroke-linejoin="miter" />
<path d="M520.6,224.2 L523.4,222.4 L523.8,224.2 Z" stroke="#000" stroke-width="0.5" fill="#000" stroke-linecap="butt" stroke-linejoin="miter" />
<line x1="503.30" y1="215.90" x2="503.30" y2="222.50" stroke="#00ff00" stroke-width="1.1" stroke-linecap="butt" />
<line x1="505.70" y1="215.90" x2="505.70" y2="222.50" stroke="#00ff00" stroke-width="1.1" stroke-linecap="butt" />
<line x1="508.10" y1="215.90" x2="508.10" y2="222.50" stroke="#00ff00" stroke-width="1.1" stroke-linecap="butt" />
<rect x="671.30" y="218.80" width="6.30" height="6.30" fill="#000" stroke="none" stroke-width="0" rx="1.2"/>
<line x1="526.50" y1="235.30" x2="714.75" y2="235.30" stroke="#000" stroke-width="3" stroke-linecap="butt" />
<line x1="620.20" y1="235.70" x2="714.75" y2="235.70" stroke="#000" stroke-width="4.5" stroke-linecap="butt" />
<path d="M501.3,234.5 L503.8,238.2 L527.3,238.2 L527.3,235.3" stroke="#000" stroke-width="1.9" fill="none" stroke-linecap="butt" stroke-linejoin="round" />
<path d="M506.4,237.6 L509.2,235.8 L509.6,237.6 Z" stroke="#000" stroke-width="0.5" fill="#000" stroke-linecap="butt" stroke-linejoin="miter" />
<path d="M514.0,237.6 L516.8,235.8 L517.2,237.6 Z" stroke="#000" stroke-width="0.5" fill="#000" stroke-linecap="butt" stroke-linejoin="miter" />
<path d="M520.6,237.6 L523.4,235.8 L523.8,237.6 Z" stroke="#000" stroke-width="0.5" fill="#000" stroke-linecap="butt" stroke-linejoin="miter" />
<line x1="503.30" y1="229.30" x2="503.30" y2="235.90" stroke="#00ff00" stroke-width="1.1" stroke-linecap="butt" />
<line x1="505.70" y1="229.30" x2="505.70" y2="235.90" stroke="#00ff00" stroke-width="1.1" stroke-linecap="butt" />
<line x1="508.10" y1="229.30" x2="508.10" y2="235.90" stroke="#00ff00" stroke-width="1.1" stroke-linecap="butt" />
<rect x="710.60" y="232.20" width="6.30" height="6.30" fill="#000" stroke="none" stroke-width="0" rx="1.2"/>
<line x1="526.50" y1="245.80" x2="761.15" y2="245.80" stroke="#000" stroke-width="2" stroke-linecap="butt" />
<path d="M501.3,245.3 L503.0,247.0 L505.4,250.8 L508.6,247.0 L511.2,247.0 L514.0,250.8 L517.0,247.0 L519.2,247.0 L522.6,250.8 L525.6,247.0 L527.3,247.0 L527.3,245.8" stroke="#000" stroke-width="2.0" fill="none" stroke-linecap="butt" stroke-linejoin="round" />
<line x1="503.30" y1="239.80" x2="503.30" y2="246.40" stroke="#00ff00" stroke-width="1.1" stroke-linecap="butt" />
<line x1="505.70" y1="239.80" x2="505.70" y2="246.40" stroke="#00ff00" stroke-width="1.1" stroke-linecap="butt" />
<line x1="508.10" y1="239.80" x2="508.10" y2="246.40" stroke="#00ff00" stroke-width="1.1" stroke-linecap="butt" />
<rect x="757.00" y="242.70" width="6.30" height="6.30" fill="#000" stroke="none" stroke-width="0" rx="1.2"/>
<line x1="543.20" y1="202.90" x2="584.90" y2="202.90" stroke="#000" stroke-width="4.1" stroke-linecap="butt" />
<path d="M542.4,200.85 L529.6,214.10 L529.3,216.90 L531,218.10 L534.6,217.90 L547.6,204.95 Z" stroke="#000" stroke-width="0.6" fill="#000" stroke-linecap="butt" stroke-linejoin="round" />
<line x1="592.40" y1="204.80" x2="598.30" y2="204.80" stroke="#00ff00" stroke-width="1.55" stroke-linecap="round" />
<line x1="593.60" y1="201.20" x2="593.60" y2="209.40" stroke="#00ff00" stroke-width="1.55" stroke-linecap="round" />
<path d="M601.90,213.10 L601.90,198.10 L608.00,213.10 L608.00,198.10" stroke="#00ff00" stroke-width="1.55" fill="none" stroke-linecap="round" stroke-linejoin="round" />
<path d="M611.50,198.10 L616.45,198.10 L618.10,199.90 L618.10,203.80 L615.46,205.60 L618.10,207.40 L618.10,211.30 L616.45,213.10 L611.50,213.10" stroke="#00ff00" stroke-width="1.55" fill="none" stroke-linecap="round" stroke-linejoin="round" />
<path d="M613.48,198.10 L613.48,213.10" stroke="#00ff00" stroke-width="1.55" fill="none" stroke-linecap="round" stroke-linejoin="round" />
<path d="M627.86,211.90 L627.86,198.10 L623.90,206.80 L628.30,206.80" stroke="#00ff00" stroke-width="1.55" fill="none" stroke-linecap="round" stroke-linejoin="round" />
<line x1="414.55" y1="212.60" x2="444.60" y2="212.60" stroke="#ff00ff" stroke-width="1.4" stroke-linecap="butt" />
<line x1="446.80" y1="212.60" x2="450.70" y2="212.60" stroke="#ff00ff" stroke-width="1.4" stroke-linecap="butt" />
<line x1="453.40" y1="212.60" x2="476.00" y2="212.60" stroke="#ff00ff" stroke-width="1.4" stroke-linecap="butt" />
<line x1="478.60" y1="212.60" x2="482.70" y2="212.60" stroke="#ff00ff" stroke-width="1.4" stroke-linecap="butt" />
<line x1="485.30" y1="212.60" x2="514.60" y2="212.60" stroke="#ff00ff" stroke-width="1.4" stroke-linecap="butt" />
<line x1="517.30" y1="212.60" x2="521.80" y2="212.60" stroke="#ff00ff" stroke-width="1.4" stroke-linecap="butt" />
<line x1="524.80" y1="212.60" x2="539.05" y2="212.60" stroke="#ff00ff" stroke-width="1.4" stroke-linecap="butt" />
<line x1="414.55" y1="261.60" x2="444.60" y2="261.60" stroke="#ff00ff" stroke-width="1.4" stroke-linecap="butt" />
<line x1="446.80" y1="261.60" x2="450.70" y2="261.60" stroke="#ff00ff" stroke-width="1.4" stroke-linecap="butt" />
<line x1="453.40" y1="261.60" x2="476.00" y2="261.60" stroke="#ff00ff" stroke-width="1.4" stroke-linecap="butt" />
<line x1="478.60" y1="261.60" x2="482.70" y2="261.60" stroke="#ff00ff" stroke-width="1.4" stroke-linecap="butt" />
<line x1="485.30" y1="261.60" x2="514.60" y2="261.60" stroke="#ff00ff" stroke-width="1.4" stroke-linecap="butt" />
<line x1="517.30" y1="261.60" x2="521.80" y2="261.60" stroke="#ff00ff" stroke-width="1.4" stroke-linecap="butt" />
<line x1="524.80" y1="261.60" x2="539.05" y2="261.60" stroke="#ff00ff" stroke-width="1.4" stroke-linecap="butt" />
<line x1="415.20" y1="212.60" x2="415.20" y2="247.60" stroke="#ff00ff" stroke-width="1.4" stroke-linecap="butt" />
<line x1="415.20" y1="250.00" x2="415.20" y2="253.60" stroke="#ff00ff" stroke-width="1.4" stroke-linecap="butt" />
<line x1="415.20" y1="256.20" x2="415.20" y2="261.60" stroke="#ff00ff" stroke-width="1.4" stroke-linecap="butt" />
<line x1="538.40" y1="212.60" x2="538.40" y2="227.30" stroke="#ff00ff" stroke-width="1.4" stroke-linecap="butt" />
<line x1="538.40" y1="229.70" x2="538.40" y2="233.80" stroke="#ff00ff" stroke-width="1.4" stroke-linecap="butt" />
<line x1="538.40" y1="236.90" x2="538.40" y2="261.60" stroke="#ff00ff" stroke-width="1.4" stroke-linecap="butt" />
<line x1="369.95" y1="276.60" x2="444.50" y2="276.60" stroke="#000" stroke-width="2" stroke-linecap="butt" />
<line x1="386.80" y1="292.70" x2="432.00" y2="292.70" stroke="#000" stroke-width="2" stroke-linecap="butt" />
<line x1="406.90" y1="307.20" x2="444.50" y2="307.20" stroke="#000" stroke-width="2" stroke-linecap="butt" />
<line x1="432.10" y1="276.60" x2="432.10" y2="307.20" stroke="#000" stroke-width="1.8" stroke-linecap="butt" />
<rect x="426.50" y="279.70" width="11.30" height="6.90" fill="#000" stroke="none" stroke-width="0" rx="2.5"/>
<rect x="426.50" y="298.70" width="11.30" height="7.70" fill="#000" stroke="none" stroke-width="0" rx="2.5"/>
<rect x="429.00" y="300.70" width="6.40" height="1.40" fill="#ddd" stroke="none" stroke-width="0" rx="0.6"/>
<rect x="444.90" y="273.80" width="55.40" height="37.10" fill="#fff" stroke="none" stroke-width="0" rx="0"/>
<line x1="443.80" y1="273.80" x2="501.40" y2="273.80" stroke="#000" stroke-width="4.5" stroke-linecap="butt" />
<line x1="443.80" y1="310.90" x2="501.40" y2="310.90" stroke="#000" stroke-width="4" stroke-linecap="butt" />
<line x1="444.90" y1="273.80" x2="444.90" y2="310.90" stroke="#000" stroke-width="2.2" stroke-linecap="butt" />
<line x1="500.30" y1="273.80" x2="500.30" y2="310.90" stroke="#000" stroke-width="2.2" stroke-linecap="butt" />
<line x1="459.80" y1="286.50" x2="466.50" y2="286.50" stroke="#000" stroke-width="4.6" stroke-linecap="round" />
<line x1="479.00" y1="286.50" x2="484.40" y2="286.50" stroke="#000" stroke-width="4.6" stroke-linecap="round" />
<path d="M466.6,285.90 L472.6,295.00 L478.6,285.90 L480.3,287.50 L479.6,292.10 L465.6,292.10 L468,289.50 L465.5,287.50 Z" stroke="#000" stroke-width="0" fill="#000" stroke-linecap="butt" stroke-linejoin="miter" />
<path d="M468.6,285.20 L472.6,292.20 L476.6,285.20 Z" stroke="#000" stroke-width="0" fill="#fff" stroke-linecap="butt" stroke-linejoin="miter" />
<rect x="465.50" y="291.60" width="14.10" height="4.10" fill="#000" stroke="none" stroke-width="0" rx="0.8"/>
<line x1="472.60" y1="295.20" x2="472.60" y2="303.60" stroke="#000" stroke-width="4.6" stroke-linecap="butt" />
<path d="M469.2,280.60 L470.3,286.80 L471.6,280.60" stroke="#00ff00" stroke-width="1.1" fill="none" stroke-linecap="butt" stroke-linejoin="round" />
<path d="M473,280.90 L476.8,280.90 L476.8,286.60 L473.6,286.60 Z" stroke="#00ff00" stroke-width="1.0" fill="none" stroke-linecap="butt" stroke-linejoin="round" />
<line x1="420.10" y1="280.50" x2="420.10" y2="286.00" stroke="#00ff00" stroke-width="1.1" stroke-linecap="butt" />
<line x1="423.20" y1="280.50" x2="423.20" y2="286.00" stroke="#00ff00" stroke-width="1.1" stroke-linecap="butt" />
<line x1="419.80" y1="300.00" x2="419.80" y2="304.60" stroke="#00ff00" stroke-width="1.1" stroke-linecap="butt" />
<path d="M421.8,300.5 L425.6,300.5 L425.6,304.1 L421.8,304.1 Z" stroke="#00ff00" stroke-width="1.0" fill="none" stroke-linecap="butt" stroke-linejoin="miter" />
<line x1="526.50" y1="283.20" x2="675.45" y2="283.20" stroke="#000" stroke-width="2" stroke-linecap="butt" />
<path d="M501.3,282.7 L503.0,284.4 L505.4,288.2 L508.6,284.4 L511.2,284.4 L514.0,288.2 L517.0,284.4 L519.2,284.4 L522.6,288.2 L525.6,284.4 L527.3,284.4 L527.3,283.2" stroke="#000" stroke-width="2.0" fill="none" stroke-linecap="butt" stroke-linejoin="round" />
<line x1="503.30" y1="277.20" x2="503.30" y2="283.80" stroke="#00ff00" stroke-width="1.1" stroke-linecap="butt" />
<line x1="505.70" y1="277.20" x2="505.70" y2="283.80" stroke="#00ff00" stroke-width="1.1" stroke-linecap="butt" />
<line x1="508.10" y1="277.20" x2="508.10" y2="283.80" stroke="#00ff00" stroke-width="1.1" stroke-linecap="butt" />
<rect x="671.30" y="280.10" width="6.30" height="6.30" fill="#000" stroke="none" stroke-width="0" rx="1.2"/>
<line x1="526.50" y1="295.60" x2="714.75" y2="295.60" stroke="#000" stroke-width="3" stroke-linecap="butt" />
<line x1="620.20" y1="296.00" x2="714.75" y2="296.00" stroke="#000" stroke-width="4.5" stroke-linecap="butt" />
<path d="M501.3,295.1 L503.0,296.8 L505.4,300.6 L508.6,296.8 L511.2,296.8 L514.0,300.6 L517.0,296.8 L519.2,296.8 L522.6,300.6 L525.6,296.8 L527.3,296.8 L527.3,295.6" stroke="#000" stroke-width="2.0" fill="none" stroke-linecap="butt" stroke-linejoin="round" />
<line x1="503.30" y1="289.60" x2="503.30" y2="296.20" stroke="#00ff00" stroke-width="1.1" stroke-linecap="butt" />
<line x1="505.70" y1="289.60" x2="505.70" y2="296.20" stroke="#00ff00" stroke-width="1.1" stroke-linecap="butt" />
<line x1="508.10" y1="289.60" x2="508.10" y2="296.20" stroke="#00ff00" stroke-width="1.1" stroke-linecap="butt" />
<rect x="710.60" y="292.50" width="6.30" height="6.30" fill="#000" stroke="none" stroke-width="0" rx="1.2"/>
<line x1="526.50" y1="307.50" x2="761.15" y2="307.50" stroke="#000" stroke-width="2.5" stroke-linecap="butt" />
<path d="M501.3,307.0 L503.0,308.7 L505.4,312.5 L508.6,308.7 L511.2,308.7 L514.0,312.5 L517.0,308.7 L519.2,308.7 L522.6,312.5 L525.6,308.7 L527.3,308.7 L527.3,307.5" stroke="#000" stroke-width="2.0" fill="none" stroke-linecap="butt" stroke-linejoin="round" />
<line x1="503.30" y1="301.50" x2="503.30" y2="308.10" stroke="#00ff00" stroke-width="1.1" stroke-linecap="butt" />
<line x1="505.70" y1="301.50" x2="505.70" y2="308.10" stroke="#00ff00" stroke-width="1.1" stroke-linecap="butt" />
<line x1="508.10" y1="301.50" x2="508.10" y2="308.10" stroke="#00ff00" stroke-width="1.1" stroke-linecap="butt" />
<rect x="757.00" y="304.40" width="6.30" height="6.30" fill="#000" stroke="none" stroke-width="0" rx="1.2"/>
<line x1="543.20" y1="265.60" x2="584.90" y2="265.60" stroke="#000" stroke-width="2.4" stroke-linecap="butt" />
<path d="M542.6,264.40 L529.3,277.10 L529.3,278.70 L535.2,278.70 L546.9,266.80 Z" stroke="#000" stroke-width="0.4" fill="#000" stroke-linecap="butt" stroke-linejoin="round" />
<line x1="592.40" y1="266.20" x2="598.30" y2="266.20" stroke="#00ff00" stroke-width="1.55" stroke-linecap="round" />
<line x1="593.60" y1="262.70" x2="593.60" y2="270.90" stroke="#00ff00" stroke-width="1.55" stroke-linecap="round" />
<path d="M601.90,273.10 L601.90,259.00 L608.00,273.10 L608.00,259.00" stroke="#00ff00" stroke-width="1.55" fill="none" stroke-linecap="round" stroke-linejoin="round" />
<path d="M611.50,259.00 L616.45,259.00 L618.10,260.69 L618.10,264.36 L615.46,266.05 L618.10,267.74 L618.10,271.41 L616.45,273.10 L611.50,273.10" stroke="#00ff00" stroke-width="1.55" fill="none" stroke-linecap="round" stroke-linejoin="round" />
<path d="M613.48,259.00 L613.48,273.10" stroke="#00ff00" stroke-width="1.55" fill="none" stroke-linecap="round" stroke-linejoin="round" />
<path d="M627.64,259.00 L624.12,259.00 L624.12,264.08 L628.30,264.08 L628.30,273.10 L623.90,273.10 L623.90,270.98" stroke="#00ff00" stroke-width="1.55" fill="none" stroke-linecap="round" stroke-linejoin="round" />
<line x1="414.55" y1="270.50" x2="444.60" y2="270.50" stroke="#ff00ff" stroke-width="1.4" stroke-linecap="butt" />
<line x1="446.80" y1="270.50" x2="450.70" y2="270.50" stroke="#ff00ff" stroke-width="1.4" stroke-linecap="butt" />
<line x1="453.40" y1="270.50" x2="476.00" y2="270.50" stroke="#ff00ff" stroke-width="1.4" stroke-linecap="butt" />
<line x1="478.60" y1="270.50" x2="482.70" y2="270.50" stroke="#ff00ff" stroke-width="1.4" stroke-linecap="butt" />
<line x1="485.30" y1="270.50" x2="514.60" y2="270.50" stroke="#ff00ff" stroke-width="1.4" stroke-linecap="butt" />
<line x1="517.30" y1="270.50" x2="521.80" y2="270.50" stroke="#ff00ff" stroke-width="1.4" stroke-linecap="butt" />
<line x1="524.80" y1="270.50" x2="539.05" y2="270.50" stroke="#ff00ff" stroke-width="1.4" stroke-linecap="butt" />
<line x1="414.55" y1="319.70" x2="444.60" y2="319.70" stroke="#ff00ff" stroke-width="1.4" stroke-linecap="butt" />
<line x1="446.80" y1="319.70" x2="450.70" y2="319.70" stroke="#ff00ff" stroke-width="1.4" stroke-linecap="butt" />
<line x1="453.40" y1="319.70" x2="476.00" y2="319.70" stroke="#ff00ff" stroke-width="1.4" stroke-linecap="butt" />
<line x1="478.60" y1="319.70" x2="482.70" y2="319.70" stroke="#ff00ff" stroke-width="1.4" stroke-linecap="butt" />
<line x1="485.30" y1="319.70" x2="514.60" y2="319.70" stroke="#ff00ff" stroke-width="1.4" stroke-linecap="butt" />
<line x1="517.30" y1="319.70" x2="521.80" y2="319.70" stroke="#ff00ff" stroke-width="1.4" stroke-linecap="butt" />
<line x1="524.80" y1="319.70" x2="539.05" y2="319.70" stroke="#ff00ff" stroke-width="1.4" stroke-linecap="butt" />
<line x1="415.20" y1="270.50" x2="415.20" y2="305.50" stroke="#ff00ff" stroke-width="1.4" stroke-linecap="butt" />
<line x1="415.20" y1="307.90" x2="415.20" y2="311.50" stroke="#ff00ff" stroke-width="1.4" stroke-linecap="butt" />
<line x1="415.20" y1="314.10" x2="415.20" y2="319.70" stroke="#ff00ff" stroke-width="1.4" stroke-linecap="butt" />
<line x1="538.40" y1="270.50" x2="538.40" y2="284.00" stroke="#ff00ff" stroke-width="1.4" stroke-linecap="butt" />
<line x1="538.40" y1="286.00" x2="538.40" y2="288.90" stroke="#ff00ff" stroke-width="1.4" stroke-linecap="butt" />
<line x1="538.40" y1="291.70" x2="538.40" y2="319.70" stroke="#ff00ff" stroke-width="1.4" stroke-linecap="butt" />
<line x1="369.95" y1="339.00" x2="444.50" y2="339.00" stroke="#000" stroke-width="2" stroke-linecap="butt" />
<line x1="386.80" y1="353.90" x2="432.00" y2="353.90" stroke="#000" stroke-width="2" stroke-linecap="butt" />
<line x1="406.90" y1="370.00" x2="444.50" y2="370.00" stroke="#000" stroke-width="4" stroke-linecap="butt" />
<line x1="432.10" y1="339.00" x2="432.10" y2="370.00" stroke="#000" stroke-width="1.8" stroke-linecap="butt" />
<rect x="426.50" y="342.60" width="11.30" height="7.20" fill="#000" stroke="none" stroke-width="0" rx="2.5"/>
<rect x="426.50" y="360.00" width="11.30" height="6.80" fill="#000" stroke="none" stroke-width="0" rx="2.5"/>
<rect x="444.90" y="336.50" width="55.40" height="36.70" fill="#fff" stroke="none" stroke-width="0" rx="0"/>
<line x1="443.80" y1="336.50" x2="501.40" y2="336.50" stroke="#000" stroke-width="2" stroke-linecap="butt" />
<line x1="443.80" y1="373.20" x2="501.40" y2="373.20" stroke="#000" stroke-width="2" stroke-linecap="butt" />
<line x1="444.90" y1="336.50" x2="444.90" y2="373.20" stroke="#000" stroke-width="2.2" stroke-linecap="butt" />
<line x1="500.30" y1="336.50" x2="500.30" y2="373.20" stroke="#000" stroke-width="2.2" stroke-linecap="butt" />
<line x1="459.80" y1="349.00" x2="467.30" y2="349.00" stroke="#000" stroke-width="2.4" stroke-linecap="round" />
<line x1="478.00" y1="349.00" x2="485.20" y2="349.00" stroke="#000" stroke-width="2.4" stroke-linecap="round" />
<path d="M466.6,348.40 L472.6,356.20 L478.6,348.40 L480.3,350.00 L479.6,353.30 L465.6,353.30 L468,352.00 L465.5,350.00 Z" stroke="#000" stroke-width="0" fill="#000" stroke-linecap="butt" stroke-linejoin="miter" />
<path d="M468.6,347.70 L472.6,353.40 L476.6,347.70 Z" stroke="#000" stroke-width="0" fill="#fff" stroke-linecap="butt" stroke-linejoin="miter" />
<rect x="465.50" y="352.80" width="14.10" height="4.20" fill="#000" stroke="none" stroke-width="0" rx="0.8"/>
<line x1="472.60" y1="356.50" x2="472.60" y2="363.80" stroke="#000" stroke-width="4.6" stroke-linecap="butt" />
<path d="M469.2,341.20 L470.3,347.70 L471.6,341.20" stroke="#00ff00" stroke-width="1.1" fill="none" stroke-linecap="butt" stroke-linejoin="round" />
<path d="M473,341.50 L476.8,341.50 L476.8,347.50 L473.6,347.50 Z" stroke="#00ff00" stroke-width="1.0" fill="none" stroke-linecap="butt" stroke-linejoin="round" />
<line x1="420.10" y1="344.30" x2="420.10" y2="348.60" stroke="#00ff00" stroke-width="1.1" stroke-linecap="butt" />
<line x1="423.20" y1="344.30" x2="423.20" y2="348.60" stroke="#00ff00" stroke-width="1.1" stroke-linecap="butt" />
<line x1="419.80" y1="361.50" x2="419.80" y2="367.00" stroke="#00ff00" stroke-width="1.1" stroke-linecap="butt" />
<path d="M421.8,362.0 L425.6,362.0 L425.6,366.5 L421.8,366.5 Z" stroke="#00ff00" stroke-width="1.0" fill="none" stroke-linecap="butt" stroke-linejoin="miter" />
<line x1="526.50" y1="338.80" x2="675.45" y2="338.80" stroke="#000" stroke-width="2" stroke-linecap="butt" />
<path d="M501.3,338.0 L503.8,341.7 L527.3,341.7 L527.3,338.8" stroke="#000" stroke-width="1.9" fill="none" stroke-linecap="butt" stroke-linejoin="round" />
<path d="M506.4,341.1 L509.2,339.3 L509.6,341.1 Z" stroke="#000" stroke-width="0.5" fill="#000" stroke-linecap="butt" stroke-linejoin="miter" />
<path d="M514.0,341.1 L516.8,339.3 L517.2,341.1 Z" stroke="#000" stroke-width="0.5" fill="#000" stroke-linecap="butt" stroke-linejoin="miter" />
<path d="M520.6,341.1 L523.4,339.3 L523.8,341.1 Z" stroke="#000" stroke-width="0.5" fill="#000" stroke-linecap="butt" stroke-linejoin="miter" />
<line x1="503.40" y1="334.20" x2="503.40" y2="337.60" stroke="#00ff00" stroke-width="1.1" stroke-linecap="butt" />
<path d="M505.2,337.4 L505.2,335.2 L508.2,335.2 L508.2,337.4 Z" stroke="#00ff00" stroke-width="1.0" fill="none" stroke-linecap="butt" stroke-linejoin="miter" />
<rect x="671.30" y="335.70" width="6.30" height="6.30" fill="#000" stroke="none" stroke-width="0" rx="1.2"/>
<line x1="526.50" y1="351.60" x2="714.75" y2="351.60" stroke="#000" stroke-width="2" stroke-linecap="butt" />
<path d="M501.3,350.8 L503.8,354.5 L527.3,354.5 L527.3,351.6" stroke="#000" stroke-width="1.9" fill="none" stroke-linecap="butt" stroke-linejoin="round" />
<path d="M506.4,353.9 L509.2,352.1 L509.6,353.9 Z" stroke="#000" stroke-width="0.5" fill="#000" stroke-linecap="butt" stroke-linejoin="miter" />
<path d="M514.0,353.9 L516.8,352.1 L517.2,353.9 Z" stroke="#000" stroke-width="0.5" fill="#000" stroke-linecap="butt" stroke-linejoin="miter" />
<path d="M520.6,353.9 L523.4,352.1 L523.8,353.9 Z" stroke="#000" stroke-width="0.5" fill="#000" stroke-linecap="butt" stroke-linejoin="miter" />
<line x1="503.40" y1="347.00" x2="503.40" y2="350.40" stroke="#00ff00" stroke-width="1.1" stroke-linecap="butt" />
<path d="M505.2,350.2 L505.2,348.0 L508.2,348.0 L508.2,350.2 Z" stroke="#00ff00" stroke-width="1.0" fill="none" stroke-linecap="butt" stroke-linejoin="miter" />
<rect x="710.60" y="348.50" width="6.30" height="6.30" fill="#000" stroke="none" stroke-width="0" rx="1.2"/>
<line x1="526.50" y1="363.40" x2="761.15" y2="363.40" stroke="#000" stroke-width="2" stroke-linecap="butt" />
<path d="M501.3,362.6 L503.8,366.3 L527.3,366.3 L527.3,363.4" stroke="#000" stroke-width="1.9" fill="none" stroke-linecap="butt" stroke-linejoin="round" />
<path d="M506.4,365.7 L509.2,363.9 L509.6,365.7 Z" stroke="#000" stroke-width="0.5" fill="#000" stroke-linecap="butt" stroke-linejoin="miter" />
<path d="M514.0,365.7 L516.8,363.9 L517.2,365.7 Z" stroke="#000" stroke-width="0.5" fill="#000" stroke-linecap="butt" stroke-linejoin="miter" />
<path d="M520.6,365.7 L523.4,363.9 L523.8,365.7 Z" stroke="#000" stroke-width="0.5" fill="#000" stroke-linecap="butt" stroke-linejoin="miter" />
<line x1="503.20" y1="358.00" x2="503.20" y2="364.40" stroke="#333" stroke-width="1.1" stroke-linecap="butt" />
<line x1="505.60" y1="358.00" x2="505.60" y2="364.40" stroke="#333" stroke-width="1.1" stroke-linecap="butt" />
<rect x="757.00" y="360.30" width="6.30" height="6.30" fill="#000" stroke="none" stroke-width="0" rx="1.2"/>
<line x1="543.20" y1="324.30" x2="584.90" y2="324.30" stroke="#000" stroke-width="2.4" stroke-linecap="butt" />
<path d="M542.6,323.10 L529.3,337.30 L529.3,338.90 L535.2,338.90 L546.9,325.50 Z" stroke="#000" stroke-width="0.4" fill="#000" stroke-linecap="butt" stroke-linejoin="round" />
<line x1="592.40" y1="325.30" x2="598.30" y2="325.30" stroke="#00ff00" stroke-width="1.55" stroke-linecap="round" />
<line x1="593.60" y1="320.70" x2="593.60" y2="330.20" stroke="#00ff00" stroke-width="1.55" stroke-linecap="round" />
<path d="M601.90,332.30 L601.90,317.00 L608.00,332.30 L608.00,317.00" stroke="#00ff00" stroke-width="1.55" fill="none" stroke-linecap="round" stroke-linejoin="round" />
<path d="M611.50,317.00 L616.45,317.00 L618.10,318.84 L618.10,322.81 L615.46,324.65 L618.10,326.49 L618.10,330.46 L616.45,332.30 L611.50,332.30" stroke="#00ff00" stroke-width="1.55" fill="none" stroke-linecap="round" stroke-linejoin="round" />
<path d="M613.48,317.00 L613.48,332.30" stroke="#00ff00" stroke-width="1.55" fill="none" stroke-linecap="round" stroke-linejoin="round" />
<path d="M627.64,317.00 L625.88,318.84 L624.12,323.12 L624.12,332.30 L628.30,332.30 L628.30,324.96 L624.12,324.96" stroke="#00ff00" stroke-width="1.55" fill="none" stroke-linecap="round" stroke-linejoin="round" />
<line x1="414.55" y1="332.60" x2="444.60" y2="332.60" stroke="#ff00ff" stroke-width="1.4" stroke-linecap="butt" />
<line x1="446.80" y1="332.60" x2="450.70" y2="332.60" stroke="#ff00ff" stroke-width="1.4" stroke-linecap="butt" />
<line x1="453.40" y1="332.60" x2="476.00" y2="332.60" stroke="#ff00ff" stroke-width="1.4" stroke-linecap="butt" />
<line x1="478.60" y1="332.60" x2="482.70" y2="332.60" stroke="#ff00ff" stroke-width="1.4" stroke-linecap="butt" />
<line x1="485.30" y1="332.60" x2="514.60" y2="332.60" stroke="#ff00ff" stroke-width="1.4" stroke-linecap="butt" />
<line x1="517.30" y1="332.60" x2="521.80" y2="332.60" stroke="#ff00ff" stroke-width="1.4" stroke-linecap="butt" />
<line x1="524.80" y1="332.60" x2="539.05" y2="332.60" stroke="#ff00ff" stroke-width="1.4" stroke-linecap="butt" />
<line x1="414.55" y1="383.40" x2="444.60" y2="383.40" stroke="#ff00ff" stroke-width="1.4" stroke-linecap="butt" />
<line x1="446.80" y1="383.40" x2="450.70" y2="383.40" stroke="#ff00ff" stroke-width="1.4" stroke-linecap="butt" />
<line x1="453.40" y1="383.40" x2="476.00" y2="383.40" stroke="#ff00ff" stroke-width="1.4" stroke-linecap="butt" />
<line x1="478.60" y1="383.40" x2="482.70" y2="383.40" stroke="#ff00ff" stroke-width="1.4" stroke-linecap="butt" />
<line x1="485.30" y1="383.40" x2="514.60" y2="383.40" stroke="#ff00ff" stroke-width="1.4" stroke-linecap="butt" />
<line x1="517.30" y1="383.40" x2="521.80" y2="383.40" stroke="#ff00ff" stroke-width="1.4" stroke-linecap="butt" />
<line x1="524.80" y1="383.40" x2="539.05" y2="383.40" stroke="#ff00ff" stroke-width="1.4" stroke-linecap="butt" />
<line x1="415.20" y1="332.60" x2="415.20" y2="367.60" stroke="#ff00ff" stroke-width="1.4" stroke-linecap="butt" />
<line x1="415.20" y1="370.00" x2="415.20" y2="373.60" stroke="#ff00ff" stroke-width="1.4" stroke-linecap="butt" />
<line x1="415.20" y1="376.20" x2="415.20" y2="383.40" stroke="#ff00ff" stroke-width="1.4" stroke-linecap="butt" />
<line x1="538.40" y1="332.60" x2="538.40" y2="337.70" stroke="#ff00ff" stroke-width="1.4" stroke-linecap="butt" />
<line x1="538.40" y1="338.90" x2="538.40" y2="342.90" stroke="#ff00ff" stroke-width="1.4" stroke-linecap="butt" />
<line x1="538.40" y1="344.00" x2="538.40" y2="346.90" stroke="#ff00ff" stroke-width="1.4" stroke-linecap="butt" />
<line x1="538.40" y1="348.00" x2="538.40" y2="367.50" stroke="#ff00ff" stroke-width="1.4" stroke-linecap="butt" />
<line x1="538.40" y1="368.70" x2="538.40" y2="372.10" stroke="#ff00ff" stroke-width="1.4" stroke-linecap="butt" />
<line x1="538.40" y1="373.20" x2="538.40" y2="376.10" stroke="#ff00ff" stroke-width="1.4" stroke-linecap="butt" />
<line x1="538.40" y1="377.30" x2="538.40" y2="383.40" stroke="#ff00ff" stroke-width="1.4" stroke-linecap="butt" />
<line x1="369.95" y1="400.20" x2="444.50" y2="400.20" stroke="#000" stroke-width="2" stroke-linecap="butt" />
<line x1="386.80" y1="416.40" x2="432.00" y2="416.40" stroke="#000" stroke-width="4.5" stroke-linecap="butt" />
<line x1="406.90" y1="431.60" x2="444.50" y2="431.60" stroke="#000" stroke-width="2" stroke-linecap="butt" />
<line x1="432.10" y1="400.20" x2="432.10" y2="431.60" stroke="#000" stroke-width="1.8" stroke-linecap="butt" />
<rect x="426.50" y="403.90" width="11.30" height="6.70" fill="#000" stroke="none" stroke-width="0" rx="2.5"/>
<rect x="426.50" y="421.10" width="11.30" height="7.30" fill="#000" stroke="none" stroke-width="0" rx="2.5"/>
<rect x="444.90" y="398.00" width="55.40" height="36.80" fill="#fff" stroke="none" stroke-width="0" rx="0"/>
<line x1="443.80" y1="398.00" x2="501.40" y2="398.00" stroke="#000" stroke-width="2" stroke-linecap="butt" />
<line x1="443.80" y1="434.80" x2="501.40" y2="434.80" stroke="#000" stroke-width="2" stroke-linecap="butt" />
<line x1="444.90" y1="398.00" x2="444.90" y2="434.80" stroke="#000" stroke-width="2.2" stroke-linecap="butt" />
<line x1="500.30" y1="398.00" x2="500.30" y2="434.80" stroke="#000" stroke-width="2.2" stroke-linecap="butt" />
<line x1="459.80" y1="409.70" x2="467.30" y2="409.70" stroke="#000" stroke-width="2.4" stroke-linecap="round" />
<line x1="478.00" y1="409.70" x2="485.20" y2="409.70" stroke="#000" stroke-width="2.4" stroke-linecap="round" />
<path d="M466.6,409.10 L472.6,417.90 L478.6,409.10 L480.3,410.70 L479.6,415.00 L465.6,415.00 L468,412.70 L465.5,410.70 Z" stroke="#000" stroke-width="0" fill="#000" stroke-linecap="butt" stroke-linejoin="miter" />
<path d="M468.6,408.40 L472.6,415.10 L476.6,408.40 Z" stroke="#000" stroke-width="0" fill="#fff" stroke-linecap="butt" stroke-linejoin="miter" />
<rect x="465.50" y="414.50" width="14.10" height="3.80" fill="#000" stroke="none" stroke-width="0" rx="0.8"/>
<line x1="472.60" y1="417.80" x2="472.60" y2="425.50" stroke="#000" stroke-width="4.6" stroke-linecap="butt" />
<path d="M469.2,404.90 L470.3,408.00 L471.6,404.90" stroke="#00ff00" stroke-width="1.1" fill="none" stroke-linecap="butt" stroke-linejoin="round" />
<path d="M473,405.20 L476.8,405.20 L476.8,407.80 L473.6,407.80 Z" stroke="#00ff00" stroke-width="1.0" fill="none" stroke-linecap="butt" stroke-linejoin="round" />
<line x1="419.80" y1="404.80" x2="419.80" y2="408.60" stroke="#00ff00" stroke-width="1.1" stroke-linecap="butt" />
<path d="M421.8,405.3 L425.6,405.3 L425.6,408.1 L421.8,408.1 Z" stroke="#00ff00" stroke-width="1.0" fill="none" stroke-linecap="butt" stroke-linejoin="miter" />
<line x1="419.80" y1="421.50" x2="419.80" y2="428.00" stroke="#00ff00" stroke-width="1.1" stroke-linecap="butt" />
<path d="M421.8,422.0 L425.6,422.0 L425.6,427.5 L421.8,427.5 Z" stroke="#00ff00" stroke-width="1.0" fill="none" stroke-linecap="butt" stroke-linejoin="miter" />
<line x1="526.50" y1="407.30" x2="675.45" y2="407.30" stroke="#000" stroke-width="2" stroke-linecap="butt" />
<path d="M501.3,406.5 L503.8,410.2 L527.3,410.2 L527.3,407.3" stroke="#000" stroke-width="1.9" fill="none" stroke-linecap="butt" stroke-linejoin="round" />
<path d="M506.4,409.6 L509.2,407.8 L509.6,409.6 Z" stroke="#000" stroke-width="0.5" fill="#000" stroke-linecap="butt" stroke-linejoin="miter" />
<path d="M514.0,409.6 L516.8,407.8 L517.2,409.6 Z" stroke="#000" stroke-width="0.5" fill="#000" stroke-linecap="butt" stroke-linejoin="miter" />
<path d="M520.6,409.6 L523.4,407.8 L523.8,409.6 Z" stroke="#000" stroke-width="0.5" fill="#000" stroke-linecap="butt" stroke-linejoin="miter" />
<line x1="503.40" y1="402.70" x2="503.40" y2="406.10" stroke="#00ff00" stroke-width="1.1" stroke-linecap="butt" />
<path d="M505.2,405.9 L505.2,403.7 L508.2,403.7 L508.2,405.9 Z" stroke="#00ff00" stroke-width="1.0" fill="none" stroke-linecap="butt" stroke-linejoin="miter" />
<rect x="671.30" y="404.20" width="6.30" height="6.30" fill="#000" stroke="none" stroke-width="0" rx="1.2"/>
<line x1="526.50" y1="420.00" x2="714.75" y2="420.00" stroke="#000" stroke-width="2" stroke-linecap="butt" />
<path d="M501.3,419.2 L503.8,422.9 L527.3,422.9 L527.3,420.0" stroke="#000" stroke-width="1.9" fill="none" stroke-linecap="butt" stroke-linejoin="round" />
<path d="M506.4,422.3 L509.2,420.5 L509.6,422.3 Z" stroke="#000" stroke-width="0.5" fill="#000" stroke-linecap="butt" stroke-linejoin="miter" />
<path d="M514.0,422.3 L516.8,420.5 L517.2,422.3 Z" stroke="#000" stroke-width="0.5" fill="#000" stroke-linecap="butt" stroke-linejoin="miter" />
<path d="M520.6,422.3 L523.4,420.5 L523.8,422.3 Z" stroke="#000" stroke-width="0.5" fill="#000" stroke-linecap="butt" stroke-linejoin="miter" />
<line x1="503.40" y1="415.00" x2="503.40" y2="418.40" stroke="#00ff00" stroke-width="1.1" stroke-linecap="butt" />
<path d="M505.2,418.2 L505.2,415.6 L511.2,415.6 L511.2,418.2 Z M508.2,415.6 L508.2,418.2" stroke="#00ff00" stroke-width="1.0" fill="none" stroke-linecap="butt" stroke-linejoin="miter" />
<rect x="710.60" y="416.90" width="6.30" height="6.30" fill="#000" stroke="none" stroke-width="0" rx="1.2"/>
<line x1="526.50" y1="431.10" x2="761.15" y2="431.10" stroke="#000" stroke-width="2" stroke-linecap="butt" />
<path d="M501.3,430.3 L503.8,434.0 L527.3,434.0 L527.3,431.1" stroke="#000" stroke-width="1.9" fill="none" stroke-linecap="butt" stroke-linejoin="round" />
<path d="M505.0,434.0 L509.2,431.1 L509.7,434.0 Z" stroke="#000" stroke-width="0.6" fill="#000" stroke-linecap="butt" stroke-linejoin="miter" />
<path d="M512.6,434.0 L516.8,431.1 L517.3,434.0 Z" stroke="#000" stroke-width="0.6" fill="#000" stroke-linecap="butt" stroke-linejoin="miter" />
<path d="M519.2,434.0 L523.4,431.1 L523.9,434.0 Z" stroke="#000" stroke-width="0.6" fill="#000" stroke-linecap="butt" stroke-linejoin="miter" />
<line x1="503.40" y1="426.50" x2="503.40" y2="429.90" stroke="#333" stroke-width="1.1" stroke-linecap="butt" />
<path d="M505.2,429.7 L505.2,427.5 L508.2,427.5 L508.2,429.7 Z" stroke="#333" stroke-width="1.0" fill="none" stroke-linecap="butt" stroke-linejoin="miter" />
<rect x="757.00" y="428.00" width="6.30" height="6.30" fill="#000" stroke="none" stroke-width="0" rx="1.2"/>
<line x1="543.20" y1="387.30" x2="584.90" y2="387.30" stroke="#000" stroke-width="2.4" stroke-linecap="butt" />
<path d="M542.6,386.10 L529.3,399.50 L529.3,401.10 L535.2,401.10 L546.9,388.50 Z" stroke="#000" stroke-width="0.4" fill="#000" stroke-linecap="butt" stroke-linejoin="round" />
<line x1="592.40" y1="391.30" x2="598.30" y2="391.30" stroke="#00ff00" stroke-width="1.55" stroke-linecap="round" />
<line x1="593.60" y1="387.00" x2="593.60" y2="396.20" stroke="#00ff00" stroke-width="1.55" stroke-linecap="round" />
<path d="M601.90,396.20 L601.90,383.30 L608.00,396.20 L608.00,383.30" stroke="#00ff00" stroke-width="1.55" fill="none" stroke-linecap="round" stroke-linejoin="round" />
<path d="M611.50,383.30 L616.45,383.30 L618.10,384.85 L618.10,388.20 L615.46,389.75 L618.10,391.30 L618.10,394.65 L616.45,396.20 L611.50,396.20" stroke="#00ff00" stroke-width="1.55" fill="none" stroke-linecap="round" stroke-linejoin="round" />
<path d="M613.48,383.30 L613.48,396.20" stroke="#00ff00" stroke-width="1.55" fill="none" stroke-linecap="round" stroke-linejoin="round" />
<path d="M623.90,383.30 L628.30,383.30 L624.12,395.56" stroke="#00ff00" stroke-width="1.55" fill="none" stroke-linecap="round" stroke-linejoin="round" />
<line x1="414.55" y1="396.10" x2="444.60" y2="396.10" stroke="#ff00ff" stroke-width="1.4" stroke-linecap="butt" />
<line x1="446.80" y1="396.10" x2="450.70" y2="396.10" stroke="#ff00ff" stroke-width="1.4" stroke-linecap="butt" />
<line x1="453.40" y1="396.10" x2="476.00" y2="396.10" stroke="#ff00ff" stroke-width="1.4" stroke-linecap="butt" />
<line x1="478.60" y1="396.10" x2="482.70" y2="396.10" stroke="#ff00ff" stroke-width="1.4" stroke-linecap="butt" />
<line x1="485.30" y1="396.10" x2="514.60" y2="396.10" stroke="#ff00ff" stroke-width="1.4" stroke-linecap="butt" />
<line x1="517.30" y1="396.10" x2="521.80" y2="396.10" stroke="#ff00ff" stroke-width="1.4" stroke-linecap="butt" />
<line x1="524.80" y1="396.10" x2="539.05" y2="396.10" stroke="#ff00ff" stroke-width="1.4" stroke-linecap="butt" />
<line x1="414.55" y1="445.30" x2="444.60" y2="445.30" stroke="#ff00ff" stroke-width="1.4" stroke-linecap="butt" />
<line x1="446.80" y1="445.30" x2="450.70" y2="445.30" stroke="#ff00ff" stroke-width="1.4" stroke-linecap="butt" />
<line x1="453.40" y1="445.30" x2="476.00" y2="445.30" stroke="#ff00ff" stroke-width="1.4" stroke-linecap="butt" />
<line x1="478.60" y1="445.30" x2="482.70" y2="445.30" stroke="#ff00ff" stroke-width="1.4" stroke-linecap="butt" />
<line x1="485.30" y1="445.30" x2="514.60" y2="445.30" stroke="#ff00ff" stroke-width="1.4" stroke-linecap="butt" />
<line x1="517.30" y1="445.30" x2="521.80" y2="445.30" stroke="#ff00ff" stroke-width="1.4" stroke-linecap="butt" />
<line x1="524.80" y1="445.30" x2="539.05" y2="445.30" stroke="#ff00ff" stroke-width="1.4" stroke-linecap="butt" />
<line x1="415.20" y1="396.10" x2="415.20" y2="431.10" stroke="#ff00ff" stroke-width="1.4" stroke-linecap="butt" />
<line x1="415.20" y1="433.50" x2="415.20" y2="437.10" stroke="#ff00ff" stroke-width="1.4" stroke-linecap="butt" />
<line x1="415.20" y1="439.70" x2="415.20" y2="445.30" stroke="#ff00ff" stroke-width="1.4" stroke-linecap="butt" />
<line x1="538.40" y1="396.10" x2="538.40" y2="424.10" stroke="#ff00ff" stroke-width="1.4" stroke-linecap="butt" />
<line x1="538.40" y1="426.60" x2="538.40" y2="430.00" stroke="#ff00ff" stroke-width="1.4" stroke-linecap="butt" />
<line x1="538.40" y1="433.40" x2="538.40" y2="445.30" stroke="#ff00ff" stroke-width="1.4" stroke-linecap="butt" />
<line x1="369.95" y1="462.80" x2="444.50" y2="462.80" stroke="#000" stroke-width="4.4" stroke-linecap="butt" />
<line x1="386.80" y1="477.90" x2="432.00" y2="477.90" stroke="#000" stroke-width="2.5" stroke-linecap="butt" />
<line x1="90.00" y1="492.90" x2="444.50" y2="492.90" stroke="#000" stroke-width="2" stroke-linecap="butt" />
<line x1="432.10" y1="462.80" x2="432.10" y2="492.90" stroke="#000" stroke-width="1.8" stroke-linecap="butt" />
<rect x="426.50" y="465.00" width="11.30" height="7.00" fill="#000" stroke="none" stroke-width="0" rx="2.5"/>
<rect x="426.50" y="482.70" width="11.30" height="7.00" fill="#000" stroke="none" stroke-width="0" rx="2.5"/>
<rect x="444.90" y="459.70" width="55.40" height="35.40" fill="#fff" stroke="none" stroke-width="0" rx="0"/>
<line x1="443.80" y1="459.70" x2="501.40" y2="459.70" stroke="#000" stroke-width="2" stroke-linecap="butt" />
<line x1="443.80" y1="495.10" x2="501.40" y2="495.10" stroke="#000" stroke-width="2.5" stroke-linecap="butt" />
<line x1="444.90" y1="459.70" x2="444.90" y2="495.10" stroke="#000" stroke-width="2.2" stroke-linecap="butt" />
<line x1="500.30" y1="459.70" x2="500.30" y2="495.10" stroke="#000" stroke-width="2.2" stroke-linecap="butt" />
<line x1="459.80" y1="470.90" x2="467.30" y2="470.90" stroke="#000" stroke-width="2.4" stroke-linecap="round" />
<line x1="478.00" y1="470.90" x2="485.20" y2="470.90" stroke="#000" stroke-width="2.4" stroke-linecap="round" />
<path d="M466.5,470.90 L468,470.90 L471.4,476.90" stroke="#000" stroke-width="2.2" fill="none" stroke-linecap="butt" stroke-linejoin="round" />
<path d="M479,470.90 L477.4,470.90 L474,476.90" stroke="#000" stroke-width="2.2" fill="none" stroke-linecap="butt" stroke-linejoin="round" />
<line x1="479.40" y1="470.90" x2="479.40" y2="478.90" stroke="#444" stroke-width="1.1" stroke-linecap="butt" />
<line x1="466.60" y1="477.90" x2="480.00" y2="477.90" stroke="#000" stroke-width="2.0" stroke-linecap="butt" />
<line x1="472.60" y1="476.90" x2="472.60" y2="486.50" stroke="#000" stroke-width="4.6" stroke-linecap="butt" />
<path d="M469.2,466.20 L470.3,469.70 L471.6,466.20" stroke="#00ff00" stroke-width="1.1" fill="none" stroke-linecap="butt" stroke-linejoin="round" />
<path d="M473,466.50 L476.8,466.50 L476.8,469.50 L473.6,469.50 Z" stroke="#00ff00" stroke-width="1.0" fill="none" stroke-linecap="butt" stroke-linejoin="round" />
<line x1="419.80" y1="466.50" x2="419.80" y2="472.50" stroke="#00ff00" stroke-width="1.1" stroke-linecap="butt" />
<path d="M421.8,467.0 L425.6,467.0 L425.6,472.0 L421.8,472.0 Z" stroke="#00ff00" stroke-width="1.0" fill="none" stroke-linecap="butt" stroke-linejoin="miter" />
<line x1="419.80" y1="484.00" x2="419.80" y2="487.60" stroke="#00ff00" stroke-width="1.1" stroke-linecap="butt" />
<path d="M421.8,484.5 L425.6,484.5 L425.6,487.1 L421.8,487.1 Z" stroke="#00ff00" stroke-width="1.0" fill="none" stroke-linecap="butt" stroke-linejoin="miter" />
<line x1="526.50" y1="468.30" x2="675.45" y2="468.30" stroke="#000" stroke-width="2" stroke-linecap="butt" />
<path d="M501.3,467.5 L503.8,471.2 L527.3,471.2 L527.3,468.3" stroke="#000" stroke-width="1.9" fill="none" stroke-linecap="butt" stroke-linejoin="round" />
<path d="M506.4,470.6 L509.2,468.8 L509.6,470.6 Z" stroke="#000" stroke-width="0.5" fill="#000" stroke-linecap="butt" stroke-linejoin="miter" />
<path d="M514.0,470.6 L516.8,468.8 L517.2,470.6 Z" stroke="#000" stroke-width="0.5" fill="#000" stroke-linecap="butt" stroke-linejoin="miter" />
<path d="M520.6,470.6 L523.4,468.8 L523.8,470.6 Z" stroke="#000" stroke-width="0.5" fill="#000" stroke-linecap="butt" stroke-linejoin="miter" />
<line x1="503.40" y1="463.30" x2="503.40" y2="466.70" stroke="#00ff00" stroke-width="1.1" stroke-linecap="butt" />
<path d="M505.2,466.5 L505.2,463.9 L511.2,463.9 L511.2,466.5 Z M508.2,463.9 L508.2,466.5" stroke="#00ff00" stroke-width="1.0" fill="none" stroke-linecap="butt" stroke-linejoin="miter" />
<line x1="526.50" y1="481.20" x2="714.75" y2="481.20" stroke="#000" stroke-width="2" stroke-linecap="butt" />
<path d="M501.3,480.7 L503.6,483.0 L505.0,486.4 L508.2,482.2 L511.4,486.4 L514.7,482.2 L518.0,486.4 L521.4,482.2 L525.3,486.8 L527.3,481.2" stroke="#000" stroke-width="1.6" fill="none" stroke-linecap="butt" stroke-linejoin="round" />
<line x1="503.40" y1="476.20" x2="503.40" y2="479.60" stroke="#00ff00" stroke-width="1.1" stroke-linecap="butt" />
<path d="M505.2,479.4 L505.2,476.8 L511.2,476.8 L511.2,479.4 Z M508.2,476.8 L508.2,479.4" stroke="#00ff00" stroke-width="1.0" fill="none" stroke-linecap="butt" stroke-linejoin="miter" />
<line x1="526.50" y1="493.30" x2="761.15" y2="493.30" stroke="#000" stroke-width="2" stroke-linecap="butt" />
<path d="M501.3,492.8 L503.6,495.1 L505.0,498.5 L508.2,494.3 L511.4,498.5 L514.7,494.3 L518.0,498.5 L521.4,494.3 L525.3,498.9 L527.3,493.3" stroke="#000" stroke-width="1.6" fill="none" stroke-linecap="butt" stroke-linejoin="round" />
<line x1="503.40" y1="488.30" x2="503.40" y2="491.70" stroke="#00ff00" stroke-width="1.1" stroke-linecap="butt" />
<path d="M505.2,491.5 L505.2,488.9 L511.2,488.9 L511.2,491.5 Z M508.2,488.9 L508.2,491.5" stroke="#00ff00" stroke-width="1.0" fill="none" stroke-linecap="butt" stroke-linejoin="miter" />
<line x1="543.20" y1="449.10" x2="584.90" y2="449.10" stroke="#000" stroke-width="2.4" stroke-linecap="butt" />
<path d="M542.6,447.90 L529.3,461.20 L529.3,462.80 L535.2,462.80 L546.9,450.30 Z" stroke="#000" stroke-width="0.4" fill="#000" stroke-linecap="butt" stroke-linejoin="round" />
<line x1="592.40" y1="451.70" x2="598.30" y2="451.70" stroke="#00ff00" stroke-width="1.55" stroke-linecap="round" />
<line x1="593.60" y1="448.70" x2="593.60" y2="456.30" stroke="#00ff00" stroke-width="1.55" stroke-linecap="round" />
<path d="M601.90,460.30 L601.90,444.70 L608.00,460.30 L608.00,444.70" stroke="#00ff00" stroke-width="1.55" fill="none" stroke-linecap="round" stroke-linejoin="round" />
<path d="M611.50,444.70 L616.45,444.70 L618.10,446.57 L618.10,450.63 L615.46,452.50 L618.10,454.37 L618.10,458.43 L616.45,460.30 L611.50,460.30" stroke="#00ff00" stroke-width="1.55" fill="none" stroke-linecap="round" stroke-linejoin="round" />
<path d="M613.48,444.70 L613.48,460.30" stroke="#00ff00" stroke-width="1.55" fill="none" stroke-linecap="round" stroke-linejoin="round" />
<path d="M623.90,444.70 L628.30,444.70 L628.30,460.30 L623.90,460.30 L623.90,444.70" stroke="#00ff00" stroke-width="1.55" fill="none" stroke-linecap="round" stroke-linejoin="round" />
<path d="M623.90,452.81 L628.30,452.81" stroke="#00ff00" stroke-width="1.55" fill="none" stroke-linecap="round" stroke-linejoin="round" />
<line x1="414.55" y1="456.60" x2="444.60" y2="456.60" stroke="#ff00ff" stroke-width="1.4" stroke-linecap="butt" />
<line x1="446.80" y1="456.60" x2="450.70" y2="456.60" stroke="#ff00ff" stroke-width="1.4" stroke-linecap="butt" />
<line x1="453.40" y1="456.60" x2="476.00" y2="456.60" stroke="#ff00ff" stroke-width="1.4" stroke-linecap="butt" />
<line x1="478.60" y1="456.60" x2="482.70" y2="456.60" stroke="#ff00ff" stroke-width="1.4" stroke-linecap="butt" />
<line x1="485.30" y1="456.60" x2="514.60" y2="456.60" stroke="#ff00ff" stroke-width="1.4" stroke-linecap="butt" />
<line x1="517.30" y1="456.60" x2="521.80" y2="456.60" stroke="#ff00ff" stroke-width="1.4" stroke-linecap="butt" />
<line x1="524.80" y1="456.60" x2="539.05" y2="456.60" stroke="#ff00ff" stroke-width="1.4" stroke-linecap="butt" />
<line x1="414.55" y1="506.00" x2="444.60" y2="506.00" stroke="#ff00ff" stroke-width="1.4" stroke-linecap="butt" />
<line x1="446.80" y1="506.00" x2="450.70" y2="506.00" stroke="#ff00ff" stroke-width="1.4" stroke-linecap="butt" />
<line x1="453.40" y1="506.00" x2="476.00" y2="506.00" stroke="#ff00ff" stroke-width="1.4" stroke-linecap="butt" />
<line x1="478.60" y1="506.00" x2="482.70" y2="506.00" stroke="#ff00ff" stroke-width="1.4" stroke-linecap="butt" />
<line x1="485.30" y1="506.00" x2="514.60" y2="506.00" stroke="#ff00ff" stroke-width="1.4" stroke-linecap="butt" />
<line x1="517.30" y1="506.00" x2="521.80" y2="506.00" stroke="#ff00ff" stroke-width="1.4" stroke-linecap="butt" />
<line x1="524.80" y1="506.00" x2="539.05" y2="506.00" stroke="#ff00ff" stroke-width="1.4" stroke-linecap="butt" />
<line x1="415.20" y1="456.60" x2="415.20" y2="491.60" stroke="#ff00ff" stroke-width="1.4" stroke-linecap="butt" />
<line x1="415.20" y1="494.00" x2="415.20" y2="497.60" stroke="#ff00ff" stroke-width="1.4" stroke-linecap="butt" />
<line x1="415.20" y1="500.20" x2="415.20" y2="506.00" stroke="#ff00ff" stroke-width="1.4" stroke-linecap="butt" />
<line x1="538.40" y1="456.60" x2="538.40" y2="475.60" stroke="#ff00ff" stroke-width="1.4" stroke-linecap="butt" />
<line x1="538.40" y1="477.10" x2="538.40" y2="496.30" stroke="#ff00ff" stroke-width="1.4" stroke-linecap="butt" />
<line x1="538.40" y1="498.60" x2="538.40" y2="500.10" stroke="#ff00ff" stroke-width="1.4" stroke-linecap="butt" />
<line x1="538.40" y1="501.60" x2="538.40" y2="506.00" stroke="#ff00ff" stroke-width="1.4" stroke-linecap="butt" />
<line x1="673.30" y1="80.40" x2="838.50" y2="80.40" stroke="#000" stroke-width="2.1" stroke-linecap="butt" />
<line x1="838.00" y1="80.85" x2="856.30" y2="80.85" stroke="#222" stroke-width="1.2" stroke-linecap="butt" />
<rect x="853.20" y="77.25" width="2.80" height="3.30" fill="#fff" stroke="#333" stroke-width="1" rx="0"/>
<line x1="854.00" y1="71.00" x2="872.80" y2="80.85" stroke="#222" stroke-width="1.2" stroke-linecap="butt" />
<line x1="872.50" y1="80.85" x2="890.00" y2="80.85" stroke="#222" stroke-width="1.2" stroke-linecap="butt" />
<line x1="889.80" y1="80.40" x2="919.80" y2="80.40" stroke="#000" stroke-width="2.1" stroke-linecap="butt" />
<line x1="712.60" y1="172.80" x2="838.50" y2="172.80" stroke="#000" stroke-width="2.1" stroke-linecap="butt" />
<line x1="838.00" y1="173.25" x2="856.30" y2="173.25" stroke="#222" stroke-width="1.2" stroke-linecap="butt" />
<rect x="853.20" y="169.65" width="2.80" height="3.30" fill="#fff" stroke="#333" stroke-width="1" rx="0"/>
<line x1="854.00" y1="161.30" x2="872.80" y2="173.25" stroke="#222" stroke-width="1.2" stroke-linecap="butt" />
<line x1="872.50" y1="173.25" x2="890.00" y2="173.25" stroke="#222" stroke-width="1.2" stroke-linecap="butt" />
<line x1="889.80" y1="172.80" x2="919.80" y2="172.80" stroke="#000" stroke-width="2.1" stroke-linecap="butt" />
<line x1="759.00" y1="264.80" x2="838.50" y2="264.80" stroke="#000" stroke-width="4.6" stroke-linecap="butt" />
<line x1="838.00" y1="266.50" x2="856.30" y2="266.50" stroke="#222" stroke-width="1.2" stroke-linecap="butt" />
<rect x="853.20" y="262.90" width="2.80" height="3.30" fill="#fff" stroke="#333" stroke-width="1" rx="0"/>
<line x1="854.00" y1="253.90" x2="872.80" y2="266.50" stroke="#222" stroke-width="1.2" stroke-linecap="butt" />
<line x1="872.50" y1="266.50" x2="890.00" y2="266.50" stroke="#222" stroke-width="1.2" stroke-linecap="butt" />
<line x1="889.80" y1="264.80" x2="919.80" y2="264.80" stroke="#000" stroke-width="4.6" stroke-linecap="butt" />
<path d="M675,95.4 L678.2,97.2 L675,99.6 Z" stroke="#000" stroke-width="0" fill="#000" stroke-linecap="butt" stroke-linejoin="miter" />
<path d="M670.2,80.4 L674.3,77 L678.2,80.4 L674.3,83.8 Z" stroke="#000" stroke-width="0" fill="#000" stroke-linecap="butt" stroke-linejoin="miter" />
<line x1="862.8" y1="75.6" x2="862.8" y2="258.5" stroke="#ff00ff" stroke-width="1.3" stroke-dasharray="7.3 2.74"/>
<path d="M833.40,44.00 L833.40,61.00" stroke="#ffff8a" stroke-width="1.3" fill="none" stroke-linecap="round" stroke-linejoin="round" />
<path d="M843.40,44.00 L833.40,53.35" stroke="#ffff8a" stroke-width="1.3" fill="none" stroke-linecap="round" stroke-linejoin="round" />
<path d="M836.40,50.80 L843.40,61.00" stroke="#ffff8a" stroke-width="1.3" fill="none" stroke-linecap="round" stroke-linejoin="round" />
<path d="M848.60,61.00 L848.60,44.00 L853.10,52.50 L857.60,44.00 L857.60,61.00" stroke="#ffff8a" stroke-width="1.3" fill="none" stroke-linecap="round" stroke-linejoin="round" />
<path d="M861.60,50.46 L865.10,44.00 L865.10,61.00" stroke="#ffff8a" stroke-width="1.3" fill="none" stroke-linecap="round" stroke-linejoin="round" />
<path d="M875.45,44.00 L878.30,46.55 L878.30,58.45 L875.45,61.00 L872.60,58.45 L872.60,46.55 L875.45,44.00" stroke="#ffff8a" stroke-width="1.3" fill="none" stroke-linecap="round" stroke-linejoin="round" />
<rect x="154.20" y="488.90" width="43.60" height="8.70" fill="#fff" stroke="#000" stroke-width="1.7" rx="0"/>
<line x1="154.00" y1="492.90" x2="198.00" y2="492.90" stroke="#000" stroke-width="2" stroke-linecap="butt" />
<path d="M163.00,484.50 L163.00,467.50 L169.50,467.50" stroke="#333" stroke-width="1.2" fill="none" stroke-linecap="round" stroke-linejoin="round" />
<path d="M163.00,477.36 L167.68,477.36" stroke="#333" stroke-width="1.2" fill="none" stroke-linecap="round" stroke-linejoin="round" />
<path d="M173.50,467.50 L173.50,481.95 L174.90,484.50 L178.05,484.50 L180.50,481.10 L180.50,467.50" stroke="#333" stroke-width="1.2" fill="none" stroke-linecap="round" stroke-linejoin="round" />
<path d="M183.20,473.96 L187.00,467.50 L187.00,484.50" stroke="#333" stroke-width="1.2" fill="none" stroke-linecap="round" stroke-linejoin="round" />
<path d="M192.00,470.90 L194.12,467.50 L198.38,467.50 L200.50,470.90 L200.50,474.30 L192.00,484.50 L200.50,484.50" stroke="#333" stroke-width="1.2" fill="none" stroke-linecap="round" stroke-linejoin="round" />
<path d="M926.6,506 L926.6,510.3 L921,510.3" stroke="#666" stroke-width="1" fill="none" stroke-linecap="butt" stroke-linejoin="miter" />
<path d="M923.6,507.6 L920.2,510.3 L923.6,513" stroke="#666" stroke-width="1.2" fill="#666" stroke-linecap="butt" stroke-linejoin="miter" />
</svg>
</body></html>
